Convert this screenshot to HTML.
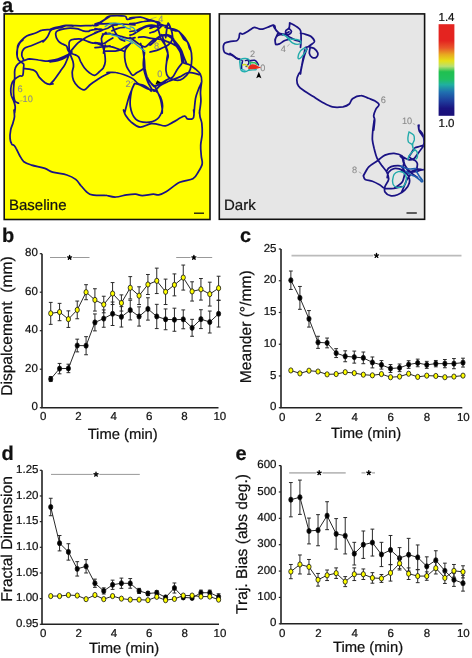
<!DOCTYPE html>
<html><head><meta charset="utf-8"><style>
html,body{margin:0;padding:0;background:#fff;width:472px;height:658px;overflow:hidden}
svg{display:block;will-change:transform}
text{font-family:"Liberation Sans", sans-serif;fill:#111;stroke:#111;stroke-width:0.22px;text-rendering:geometricPrecision}
</style></head><body>
<svg width="472" height="658" viewBox="0 0 472 658">
<path d="M42 253.7V407.7H218.5" fill="none" stroke="#222" stroke-width="1.6"/>
<line x1="39.80" y1="407.70" x2="42" y2="407.70" stroke="#222" stroke-width="1.2"/>
<text x="37.8" y="410.30" text-anchor="end" font-size="11.5">0</text>
<line x1="39.80" y1="369.20" x2="42" y2="369.20" stroke="#222" stroke-width="1.2"/>
<text x="37.8" y="371.80" text-anchor="end" font-size="11.5">20</text>
<line x1="39.80" y1="330.70" x2="42" y2="330.70" stroke="#222" stroke-width="1.2"/>
<text x="37.8" y="333.30" text-anchor="end" font-size="11.5">40</text>
<line x1="39.80" y1="292.20" x2="42" y2="292.20" stroke="#222" stroke-width="1.2"/>
<text x="37.8" y="294.80" text-anchor="end" font-size="11.5">60</text>
<line x1="39.80" y1="253.70" x2="42" y2="253.70" stroke="#222" stroke-width="1.2"/>
<text x="37.8" y="256.30" text-anchor="end" font-size="11.5">80</text>
<text x="43.10" y="420" text-anchor="middle" font-size="11.5">0</text>
<text x="78.44" y="420" text-anchor="middle" font-size="11.5">2</text>
<text x="113.78" y="420" text-anchor="middle" font-size="11.5">4</text>
<text x="149.12" y="420" text-anchor="middle" font-size="11.5">6</text>
<text x="184.46" y="420" text-anchor="middle" font-size="11.5">8</text>
<text x="219.80" y="420" text-anchor="middle" font-size="11.5">10</text>
<text x="122.7" y="439" text-anchor="middle" font-size="14.8">Time (min)</text>
<text transform="translate(12.3,326.1) rotate(-90)" text-anchor="middle" font-size="15.6" style="white-space:pre">Dispalcement  (mm)</text>
<text x="2" y="242" font-size="20" font-weight="bold">b</text>
<line x1="50" y1="257.5" x2="89.5" y2="257.5" stroke="#999" stroke-width="1"/>
<circle cx="69.6" cy="257.5" r="3.3" fill="#fff"/>
<path d="M69.60 257.50L69.60 255.35M69.60 257.50L71.64 256.84M69.60 257.50L70.86 259.24M69.60 257.50L68.34 259.24M69.60 257.50L67.56 256.84" stroke="#000" stroke-width="1.35" stroke-linecap="round" fill="none"/>
<line x1="176.2" y1="257.5" x2="212.2" y2="257.5" stroke="#999" stroke-width="1"/>
<circle cx="193.9" cy="257.5" r="3.3" fill="#fff"/>
<path d="M193.90 257.50L193.90 255.35M193.90 257.50L195.94 256.84M193.90 257.50L195.16 259.24M193.90 257.50L192.64 259.24M193.90 257.50L191.86 256.84" stroke="#000" stroke-width="1.35" stroke-linecap="round" fill="none"/>
<path d="M50.73 376.51V381.52M48.84 376.51H52.63M48.84 381.52H52.63" stroke="#2a2a2a" stroke-width="1.0" fill="none"/>
<path d="M59.57 363.43V373.82M57.67 363.43H61.47M57.67 373.82H61.47" stroke="#2a2a2a" stroke-width="1.0" fill="none"/>
<path d="M68.41 364.19V372.66M66.50 364.19H70.31M66.50 372.66H70.31" stroke="#2a2a2a" stroke-width="1.0" fill="none"/>
<path d="M77.24 339.17V351.88M75.34 339.17H79.14M75.34 351.88H79.14" stroke="#2a2a2a" stroke-width="1.0" fill="none"/>
<path d="M86.08 336.67V354.76M84.17 336.67H87.98M84.17 354.76H87.98" stroke="#2a2a2a" stroke-width="1.0" fill="none"/>
<path d="M94.91 313.95V330.89M93.01 313.95H96.81M93.01 330.89H96.81" stroke="#2a2a2a" stroke-width="1.0" fill="none"/>
<path d="M103.75 309.91V327.24M101.84 309.91H105.65M101.84 327.24H105.65" stroke="#2a2a2a" stroke-width="1.0" fill="none"/>
<path d="M112.58 302.02V325.50M110.68 302.02H114.48M110.68 325.50H114.48" stroke="#2a2a2a" stroke-width="1.0" fill="none"/>
<path d="M121.42 306.64V327.04M119.52 306.64H123.32M119.52 327.04H123.32" stroke="#2a2a2a" stroke-width="1.0" fill="none"/>
<path d="M130.25 300.28V319.92M128.35 300.28H132.15M128.35 319.92H132.15" stroke="#2a2a2a" stroke-width="1.0" fill="none"/>
<path d="M139.09 306.83V326.08M137.19 306.83H140.99M137.19 326.08H140.99" stroke="#2a2a2a" stroke-width="1.0" fill="none"/>
<path d="M147.92 297.78V320.11M146.02 297.78H149.82M146.02 320.11H149.82" stroke="#2a2a2a" stroke-width="1.0" fill="none"/>
<path d="M156.76 304.33V328.58M154.86 304.33H158.66M154.86 328.58H158.66" stroke="#2a2a2a" stroke-width="1.0" fill="none"/>
<path d="M165.59 308.95V329.74M163.69 308.95H167.49M163.69 329.74H167.49" stroke="#2a2a2a" stroke-width="1.0" fill="none"/>
<path d="M174.43 308.18V331.28M172.53 308.18H176.33M172.53 331.28H176.33" stroke="#2a2a2a" stroke-width="1.0" fill="none"/>
<path d="M183.26 309.91V328.77M181.36 309.91H185.16M181.36 328.77H185.16" stroke="#2a2a2a" stroke-width="1.0" fill="none"/>
<path d="M192.10 319.34V336.28M190.20 319.34H194.00M190.20 336.28H194.00" stroke="#2a2a2a" stroke-width="1.0" fill="none"/>
<path d="M200.93 309.72V328.58M199.03 309.72H202.83M199.03 328.58H202.83" stroke="#2a2a2a" stroke-width="1.0" fill="none"/>
<path d="M209.77 311.06V333.01M207.87 311.06H211.67M207.87 333.01H211.67" stroke="#2a2a2a" stroke-width="1.0" fill="none"/>
<path d="M218.60 300.48V327.04M216.70 300.48H220.50M216.70 327.04H220.50" stroke="#2a2a2a" stroke-width="1.0" fill="none"/>
<polyline points="50.73,379.02 59.57,368.62 68.41,368.43 77.24,345.52 86.08,345.71 94.91,322.42 103.75,318.57 112.58,313.76 121.42,316.84 130.25,310.10 139.09,316.45 147.92,308.95 156.76,316.45 165.59,319.34 174.43,319.73 183.26,319.34 192.10,327.81 200.93,319.15 209.77,322.04 218.60,313.76" fill="none" stroke="#111" stroke-width="0.9"/>
<ellipse cx="50.73" cy="379.02" rx="2.1" ry="2.6" fill="#000" stroke="#111" stroke-width="0.8"/>
<ellipse cx="59.57" cy="368.62" rx="2.1" ry="2.6" fill="#000" stroke="#111" stroke-width="0.8"/>
<ellipse cx="68.41" cy="368.43" rx="2.1" ry="2.6" fill="#000" stroke="#111" stroke-width="0.8"/>
<ellipse cx="77.24" cy="345.52" rx="2.1" ry="2.6" fill="#000" stroke="#111" stroke-width="0.8"/>
<ellipse cx="86.08" cy="345.71" rx="2.1" ry="2.6" fill="#000" stroke="#111" stroke-width="0.8"/>
<ellipse cx="94.91" cy="322.42" rx="2.1" ry="2.6" fill="#000" stroke="#111" stroke-width="0.8"/>
<ellipse cx="103.75" cy="318.57" rx="2.1" ry="2.6" fill="#000" stroke="#111" stroke-width="0.8"/>
<ellipse cx="112.58" cy="313.76" rx="2.1" ry="2.6" fill="#000" stroke="#111" stroke-width="0.8"/>
<ellipse cx="121.42" cy="316.84" rx="2.1" ry="2.6" fill="#000" stroke="#111" stroke-width="0.8"/>
<ellipse cx="130.25" cy="310.10" rx="2.1" ry="2.6" fill="#000" stroke="#111" stroke-width="0.8"/>
<ellipse cx="139.09" cy="316.45" rx="2.1" ry="2.6" fill="#000" stroke="#111" stroke-width="0.8"/>
<ellipse cx="147.92" cy="308.95" rx="2.1" ry="2.6" fill="#000" stroke="#111" stroke-width="0.8"/>
<ellipse cx="156.76" cy="316.45" rx="2.1" ry="2.6" fill="#000" stroke="#111" stroke-width="0.8"/>
<ellipse cx="165.59" cy="319.34" rx="2.1" ry="2.6" fill="#000" stroke="#111" stroke-width="0.8"/>
<ellipse cx="174.43" cy="319.73" rx="2.1" ry="2.6" fill="#000" stroke="#111" stroke-width="0.8"/>
<ellipse cx="183.26" cy="319.34" rx="2.1" ry="2.6" fill="#000" stroke="#111" stroke-width="0.8"/>
<ellipse cx="192.10" cy="327.81" rx="2.1" ry="2.6" fill="#000" stroke="#111" stroke-width="0.8"/>
<ellipse cx="200.93" cy="319.15" rx="2.1" ry="2.6" fill="#000" stroke="#111" stroke-width="0.8"/>
<ellipse cx="209.77" cy="322.04" rx="2.1" ry="2.6" fill="#000" stroke="#111" stroke-width="0.8"/>
<ellipse cx="218.60" cy="313.76" rx="2.1" ry="2.6" fill="#000" stroke="#111" stroke-width="0.8"/>
<path d="M50.73 302.40V324.35M48.84 302.40H52.63M48.84 324.35H52.63" stroke="#2a2a2a" stroke-width="1.0" fill="none"/>
<path d="M59.57 303.37V320.69M57.67 303.37H61.47M57.67 320.69H61.47" stroke="#2a2a2a" stroke-width="1.0" fill="none"/>
<path d="M68.41 310.87V327.43M66.50 310.87H70.31M66.50 327.43H70.31" stroke="#2a2a2a" stroke-width="1.0" fill="none"/>
<path d="M77.24 301.06V318.76M75.34 301.06H79.14M75.34 318.76H79.14" stroke="#2a2a2a" stroke-width="1.0" fill="none"/>
<path d="M86.08 284.69V299.71M84.17 284.69H87.98M84.17 299.71H87.98" stroke="#2a2a2a" stroke-width="1.0" fill="none"/>
<path d="M94.91 288.74V311.06M93.01 288.74H96.81M93.01 311.06H96.81" stroke="#2a2a2a" stroke-width="1.0" fill="none"/>
<path d="M103.75 296.24V312.80M101.84 296.24H105.65M101.84 312.80H105.65" stroke="#2a2a2a" stroke-width="1.0" fill="none"/>
<path d="M112.58 282.57V304.52M110.68 282.57H114.48M110.68 304.52H114.48" stroke="#2a2a2a" stroke-width="1.0" fill="none"/>
<path d="M121.42 294.89V311.06M119.52 294.89H123.32M119.52 311.06H123.32" stroke="#2a2a2a" stroke-width="1.0" fill="none"/>
<path d="M130.25 276.61V298.94M128.35 276.61H132.15M128.35 298.94H132.15" stroke="#2a2a2a" stroke-width="1.0" fill="none"/>
<path d="M139.09 286.81V304.52M137.19 286.81H140.99M137.19 304.52H140.99" stroke="#2a2a2a" stroke-width="1.0" fill="none"/>
<path d="M147.92 274.49V294.51M146.02 274.49H149.82M146.02 294.51H149.82" stroke="#2a2a2a" stroke-width="1.0" fill="none"/>
<path d="M156.76 268.14V293.55M154.86 268.14H158.66M154.86 293.55H158.66" stroke="#2a2a2a" stroke-width="1.0" fill="none"/>
<path d="M165.59 279.11V304.52M163.69 279.11H167.49M163.69 304.52H167.49" stroke="#2a2a2a" stroke-width="1.0" fill="none"/>
<path d="M174.43 273.91V295.86M172.53 273.91H176.33M172.53 295.86H176.33" stroke="#2a2a2a" stroke-width="1.0" fill="none"/>
<path d="M183.26 265.06V290.08M181.36 265.06H185.16M181.36 290.08H185.16" stroke="#2a2a2a" stroke-width="1.0" fill="none"/>
<path d="M192.10 281.80V301.06M190.20 281.80H194.00M190.20 301.06H194.00" stroke="#2a2a2a" stroke-width="1.0" fill="none"/>
<path d="M200.93 278.53V300.09M199.03 278.53H202.83M199.03 300.09H202.83" stroke="#2a2a2a" stroke-width="1.0" fill="none"/>
<path d="M209.77 282.19V306.06M207.87 282.19H211.67M207.87 306.06H211.67" stroke="#2a2a2a" stroke-width="1.0" fill="none"/>
<path d="M218.60 276.22V300.09M216.70 276.22H220.50M216.70 300.09H220.50" stroke="#2a2a2a" stroke-width="1.0" fill="none"/>
<polyline points="50.73,313.38 59.57,312.03 68.41,319.15 77.24,309.91 86.08,292.20 94.91,299.90 103.75,304.52 112.58,293.55 121.42,302.98 130.25,287.77 139.09,295.66 147.92,284.50 156.76,280.84 165.59,291.81 174.43,284.88 183.26,277.57 192.10,291.43 200.93,289.31 209.77,294.12 218.60,288.16" fill="none" stroke="#111" stroke-width="0.9"/>
<ellipse cx="50.73" cy="313.38" rx="2.1" ry="2.6" fill="#ffff00" stroke="#111" stroke-width="0.8"/>
<ellipse cx="59.57" cy="312.03" rx="2.1" ry="2.6" fill="#ffff00" stroke="#111" stroke-width="0.8"/>
<ellipse cx="68.41" cy="319.15" rx="2.1" ry="2.6" fill="#ffff00" stroke="#111" stroke-width="0.8"/>
<ellipse cx="77.24" cy="309.91" rx="2.1" ry="2.6" fill="#ffff00" stroke="#111" stroke-width="0.8"/>
<ellipse cx="86.08" cy="292.20" rx="2.1" ry="2.6" fill="#ffff00" stroke="#111" stroke-width="0.8"/>
<ellipse cx="94.91" cy="299.90" rx="2.1" ry="2.6" fill="#ffff00" stroke="#111" stroke-width="0.8"/>
<ellipse cx="103.75" cy="304.52" rx="2.1" ry="2.6" fill="#ffff00" stroke="#111" stroke-width="0.8"/>
<ellipse cx="112.58" cy="293.55" rx="2.1" ry="2.6" fill="#ffff00" stroke="#111" stroke-width="0.8"/>
<ellipse cx="121.42" cy="302.98" rx="2.1" ry="2.6" fill="#ffff00" stroke="#111" stroke-width="0.8"/>
<ellipse cx="130.25" cy="287.77" rx="2.1" ry="2.6" fill="#ffff00" stroke="#111" stroke-width="0.8"/>
<ellipse cx="139.09" cy="295.66" rx="2.1" ry="2.6" fill="#ffff00" stroke="#111" stroke-width="0.8"/>
<ellipse cx="147.92" cy="284.50" rx="2.1" ry="2.6" fill="#ffff00" stroke="#111" stroke-width="0.8"/>
<ellipse cx="156.76" cy="280.84" rx="2.1" ry="2.6" fill="#ffff00" stroke="#111" stroke-width="0.8"/>
<ellipse cx="165.59" cy="291.81" rx="2.1" ry="2.6" fill="#ffff00" stroke="#111" stroke-width="0.8"/>
<ellipse cx="174.43" cy="284.88" rx="2.1" ry="2.6" fill="#ffff00" stroke="#111" stroke-width="0.8"/>
<ellipse cx="183.26" cy="277.57" rx="2.1" ry="2.6" fill="#ffff00" stroke="#111" stroke-width="0.8"/>
<ellipse cx="192.10" cy="291.43" rx="2.1" ry="2.6" fill="#ffff00" stroke="#111" stroke-width="0.8"/>
<ellipse cx="200.93" cy="289.31" rx="2.1" ry="2.6" fill="#ffff00" stroke="#111" stroke-width="0.8"/>
<ellipse cx="209.77" cy="294.12" rx="2.1" ry="2.6" fill="#ffff00" stroke="#111" stroke-width="0.8"/>
<ellipse cx="218.60" cy="288.16" rx="2.1" ry="2.6" fill="#ffff00" stroke="#111" stroke-width="0.8"/>
<path d="M281 249V407.7H462.3" fill="none" stroke="#222" stroke-width="1.6"/>
<line x1="278.80" y1="407.70" x2="281" y2="407.70" stroke="#222" stroke-width="1.2"/>
<text x="276.5" y="410.30" text-anchor="end" font-size="11.5">0</text>
<line x1="278.80" y1="375.96" x2="281" y2="375.96" stroke="#222" stroke-width="1.2"/>
<text x="276.5" y="378.56" text-anchor="end" font-size="11.5">5</text>
<line x1="278.80" y1="344.22" x2="281" y2="344.22" stroke="#222" stroke-width="1.2"/>
<text x="276.5" y="346.82" text-anchor="end" font-size="11.5">10</text>
<line x1="278.80" y1="312.48" x2="281" y2="312.48" stroke="#222" stroke-width="1.2"/>
<text x="276.5" y="315.08" text-anchor="end" font-size="11.5">15</text>
<line x1="278.80" y1="280.74" x2="281" y2="280.74" stroke="#222" stroke-width="1.2"/>
<text x="276.5" y="283.34" text-anchor="end" font-size="11.5">20</text>
<line x1="278.80" y1="249.00" x2="281" y2="249.00" stroke="#222" stroke-width="1.2"/>
<text x="276.5" y="251.60" text-anchor="end" font-size="11.5">25</text>
<text x="282.10" y="420.5" text-anchor="middle" font-size="11.5">0</text>
<text x="318.34" y="420.5" text-anchor="middle" font-size="11.5">2</text>
<text x="354.58" y="420.5" text-anchor="middle" font-size="11.5">4</text>
<text x="390.82" y="420.5" text-anchor="middle" font-size="11.5">6</text>
<text x="427.06" y="420.5" text-anchor="middle" font-size="11.5">8</text>
<text x="463.30" y="420.5" text-anchor="middle" font-size="11.5">10</text>
<text x="366" y="438.3" text-anchor="middle" font-size="14.8">Time (min)</text>
<text transform="translate(250.8,326.8) rotate(-90)" text-anchor="middle" font-size="15.6" style="white-space:pre">Meander (°/mm)</text>
<text x="240" y="242" font-size="20" font-weight="bold">c</text>
<line x1="291.5" y1="255.6" x2="461.5" y2="255.6" stroke="#bbb" stroke-width="1.7"/>
<circle cx="376.5" cy="255.6" r="3.3" fill="#fff"/>
<path d="M376.50 255.60L376.50 253.45M376.50 255.60L378.54 254.94M376.50 255.60L377.76 257.34M376.50 255.60L375.24 257.34M376.50 255.60L374.46 254.94" stroke="#000" stroke-width="1.35" stroke-linecap="round" fill="none"/>
<path d="M290.86 271.03V289.44M288.96 271.03H292.76M288.96 289.44H292.76" stroke="#2a2a2a" stroke-width="1.0" fill="none"/>
<path d="M299.92 286.45V309.31M298.02 286.45H301.82M298.02 309.31H301.82" stroke="#2a2a2a" stroke-width="1.0" fill="none"/>
<path d="M308.98 310.58V327.08M307.08 310.58H310.88M307.08 327.08H310.88" stroke="#2a2a2a" stroke-width="1.0" fill="none"/>
<path d="M318.04 336.28V348.35M316.14 336.28H319.94M316.14 348.35H319.94" stroke="#2a2a2a" stroke-width="1.0" fill="none"/>
<path d="M327.10 338.06V347.84M325.20 338.06H329.00M325.20 347.84H329.00" stroke="#2a2a2a" stroke-width="1.0" fill="none"/>
<path d="M336.16 348.66V357.55M334.26 348.66H338.06M334.26 357.55H338.06" stroke="#2a2a2a" stroke-width="1.0" fill="none"/>
<path d="M345.22 350.82V361.74M343.32 350.82H347.12M343.32 361.74H347.12" stroke="#2a2a2a" stroke-width="1.0" fill="none"/>
<path d="M354.28 351.08V363.14M352.38 351.08H356.18M352.38 363.14H356.18" stroke="#2a2a2a" stroke-width="1.0" fill="none"/>
<path d="M363.34 352.03V363.71M361.44 352.03H365.24M361.44 363.71H365.24" stroke="#2a2a2a" stroke-width="1.0" fill="none"/>
<path d="M372.40 356.98V367.90M370.50 356.98H374.30M370.50 367.90H374.30" stroke="#2a2a2a" stroke-width="1.0" fill="none"/>
<path d="M381.46 360.60V369.10M379.56 360.60H383.36M379.56 369.10H383.36" stroke="#2a2a2a" stroke-width="1.0" fill="none"/>
<path d="M390.52 364.53V372.53M388.62 364.53H392.42M388.62 372.53H392.42" stroke="#2a2a2a" stroke-width="1.0" fill="none"/>
<path d="M399.58 364.03V371.64M397.68 364.03H401.48M397.68 371.64H401.48" stroke="#2a2a2a" stroke-width="1.0" fill="none"/>
<path d="M408.64 360.72V368.34M406.74 360.72H410.54M406.74 368.34H410.54" stroke="#2a2a2a" stroke-width="1.0" fill="none"/>
<path d="M417.70 359.14V366.76M415.80 359.14H419.60M415.80 366.76H419.60" stroke="#2a2a2a" stroke-width="1.0" fill="none"/>
<path d="M426.76 361.36V368.34M424.86 361.36H428.66M424.86 368.34H428.66" stroke="#2a2a2a" stroke-width="1.0" fill="none"/>
<path d="M435.82 360.47V366.82M433.92 360.47H437.72M433.92 366.82H437.72" stroke="#2a2a2a" stroke-width="1.0" fill="none"/>
<path d="M444.88 359.52V367.77M442.98 359.52H446.78M442.98 367.77H446.78" stroke="#2a2a2a" stroke-width="1.0" fill="none"/>
<path d="M453.94 358.57V368.72M452.04 358.57H455.84M452.04 368.72H455.84" stroke="#2a2a2a" stroke-width="1.0" fill="none"/>
<path d="M463.00 358.19V367.07M461.10 358.19H464.90M461.10 367.07H464.90" stroke="#2a2a2a" stroke-width="1.0" fill="none"/>
<polyline points="290.86,280.23 299.92,297.88 308.98,318.83 318.04,342.32 327.10,342.95 336.16,353.11 345.22,356.28 354.28,357.11 363.34,357.87 372.40,362.44 381.46,364.85 390.52,368.53 399.58,367.83 408.64,364.53 417.70,362.95 426.76,364.85 435.82,363.64 444.88,363.64 453.94,363.64 463.00,362.63" fill="none" stroke="#111" stroke-width="0.9"/>
<ellipse cx="290.86" cy="280.23" rx="2.1" ry="2.6" fill="#000" stroke="#111" stroke-width="0.8"/>
<ellipse cx="299.92" cy="297.88" rx="2.1" ry="2.6" fill="#000" stroke="#111" stroke-width="0.8"/>
<ellipse cx="308.98" cy="318.83" rx="2.1" ry="2.6" fill="#000" stroke="#111" stroke-width="0.8"/>
<ellipse cx="318.04" cy="342.32" rx="2.1" ry="2.6" fill="#000" stroke="#111" stroke-width="0.8"/>
<ellipse cx="327.10" cy="342.95" rx="2.1" ry="2.6" fill="#000" stroke="#111" stroke-width="0.8"/>
<ellipse cx="336.16" cy="353.11" rx="2.1" ry="2.6" fill="#000" stroke="#111" stroke-width="0.8"/>
<ellipse cx="345.22" cy="356.28" rx="2.1" ry="2.6" fill="#000" stroke="#111" stroke-width="0.8"/>
<ellipse cx="354.28" cy="357.11" rx="2.1" ry="2.6" fill="#000" stroke="#111" stroke-width="0.8"/>
<ellipse cx="363.34" cy="357.87" rx="2.1" ry="2.6" fill="#000" stroke="#111" stroke-width="0.8"/>
<ellipse cx="372.40" cy="362.44" rx="2.1" ry="2.6" fill="#000" stroke="#111" stroke-width="0.8"/>
<ellipse cx="381.46" cy="364.85" rx="2.1" ry="2.6" fill="#000" stroke="#111" stroke-width="0.8"/>
<ellipse cx="390.52" cy="368.53" rx="2.1" ry="2.6" fill="#000" stroke="#111" stroke-width="0.8"/>
<ellipse cx="399.58" cy="367.83" rx="2.1" ry="2.6" fill="#000" stroke="#111" stroke-width="0.8"/>
<ellipse cx="408.64" cy="364.53" rx="2.1" ry="2.6" fill="#000" stroke="#111" stroke-width="0.8"/>
<ellipse cx="417.70" cy="362.95" rx="2.1" ry="2.6" fill="#000" stroke="#111" stroke-width="0.8"/>
<ellipse cx="426.76" cy="364.85" rx="2.1" ry="2.6" fill="#000" stroke="#111" stroke-width="0.8"/>
<ellipse cx="435.82" cy="363.64" rx="2.1" ry="2.6" fill="#000" stroke="#111" stroke-width="0.8"/>
<ellipse cx="444.88" cy="363.64" rx="2.1" ry="2.6" fill="#000" stroke="#111" stroke-width="0.8"/>
<ellipse cx="453.94" cy="363.64" rx="2.1" ry="2.6" fill="#000" stroke="#111" stroke-width="0.8"/>
<ellipse cx="463.00" cy="362.63" rx="2.1" ry="2.6" fill="#000" stroke="#111" stroke-width="0.8"/>
<polyline points="290.86,370.44 299.92,373.42 308.98,370.69 318.04,371.52 327.10,374.37 336.16,374.06 345.22,372.15 354.28,373.10 363.34,374.69 372.40,375.33 381.46,374.06 390.52,377.23 399.58,376.59 408.64,373.74 417.70,376.91 426.76,375.64 435.82,375.96 444.88,377.23 453.94,376.59 463.00,375.64" fill="none" stroke="#111" stroke-width="0.9"/>
<ellipse cx="290.86" cy="370.44" rx="2.1" ry="2.6" fill="#ffff00" stroke="#111" stroke-width="0.8"/>
<ellipse cx="299.92" cy="373.42" rx="2.1" ry="2.6" fill="#ffff00" stroke="#111" stroke-width="0.8"/>
<ellipse cx="308.98" cy="370.69" rx="2.1" ry="2.6" fill="#ffff00" stroke="#111" stroke-width="0.8"/>
<ellipse cx="318.04" cy="371.52" rx="2.1" ry="2.6" fill="#ffff00" stroke="#111" stroke-width="0.8"/>
<ellipse cx="327.10" cy="374.37" rx="2.1" ry="2.6" fill="#ffff00" stroke="#111" stroke-width="0.8"/>
<ellipse cx="336.16" cy="374.06" rx="2.1" ry="2.6" fill="#ffff00" stroke="#111" stroke-width="0.8"/>
<ellipse cx="345.22" cy="372.15" rx="2.1" ry="2.6" fill="#ffff00" stroke="#111" stroke-width="0.8"/>
<ellipse cx="354.28" cy="373.10" rx="2.1" ry="2.6" fill="#ffff00" stroke="#111" stroke-width="0.8"/>
<ellipse cx="363.34" cy="374.69" rx="2.1" ry="2.6" fill="#ffff00" stroke="#111" stroke-width="0.8"/>
<ellipse cx="372.40" cy="375.33" rx="2.1" ry="2.6" fill="#ffff00" stroke="#111" stroke-width="0.8"/>
<ellipse cx="381.46" cy="374.06" rx="2.1" ry="2.6" fill="#ffff00" stroke="#111" stroke-width="0.8"/>
<ellipse cx="390.52" cy="377.23" rx="2.1" ry="2.6" fill="#ffff00" stroke="#111" stroke-width="0.8"/>
<ellipse cx="399.58" cy="376.59" rx="2.1" ry="2.6" fill="#ffff00" stroke="#111" stroke-width="0.8"/>
<ellipse cx="408.64" cy="373.74" rx="2.1" ry="2.6" fill="#ffff00" stroke="#111" stroke-width="0.8"/>
<ellipse cx="417.70" cy="376.91" rx="2.1" ry="2.6" fill="#ffff00" stroke="#111" stroke-width="0.8"/>
<ellipse cx="426.76" cy="375.64" rx="2.1" ry="2.6" fill="#ffff00" stroke="#111" stroke-width="0.8"/>
<ellipse cx="435.82" cy="375.96" rx="2.1" ry="2.6" fill="#ffff00" stroke="#111" stroke-width="0.8"/>
<ellipse cx="444.88" cy="377.23" rx="2.1" ry="2.6" fill="#ffff00" stroke="#111" stroke-width="0.8"/>
<ellipse cx="453.94" cy="376.59" rx="2.1" ry="2.6" fill="#ffff00" stroke="#111" stroke-width="0.8"/>
<ellipse cx="463.00" cy="375.64" rx="2.1" ry="2.6" fill="#ffff00" stroke="#111" stroke-width="0.8"/>
<path d="M42 470.3V624.3H219" fill="none" stroke="#222" stroke-width="1.6"/>
<line x1="39.80" y1="624.30" x2="42" y2="624.30" stroke="#222" stroke-width="1.2"/>
<text x="38.5" y="626.90" text-anchor="end" font-size="11.5">0.95</text>
<line x1="39.80" y1="598.63" x2="42" y2="598.63" stroke="#222" stroke-width="1.2"/>
<text x="38.5" y="601.23" text-anchor="end" font-size="11.5">1.00</text>
<line x1="39.80" y1="572.97" x2="42" y2="572.97" stroke="#222" stroke-width="1.2"/>
<text x="38.5" y="575.57" text-anchor="end" font-size="11.5">1.05</text>
<line x1="39.80" y1="547.30" x2="42" y2="547.30" stroke="#222" stroke-width="1.2"/>
<text x="38.5" y="549.90" text-anchor="end" font-size="11.5">1.10</text>
<line x1="39.80" y1="521.63" x2="42" y2="521.63" stroke="#222" stroke-width="1.2"/>
<text x="38.5" y="524.23" text-anchor="end" font-size="11.5">1.15</text>
<line x1="39.80" y1="495.97" x2="42" y2="495.97" stroke="#222" stroke-width="1.2"/>
<text x="38.5" y="498.57" text-anchor="end" font-size="11.5">1.20</text>
<line x1="39.80" y1="470.30" x2="42" y2="470.30" stroke="#222" stroke-width="1.2"/>
<text x="38.5" y="472.90" text-anchor="end" font-size="11.5">1.25</text>
<text x="43.30" y="637" text-anchor="middle" font-size="11.5">0</text>
<text x="78.64" y="637" text-anchor="middle" font-size="11.5">2</text>
<text x="113.98" y="637" text-anchor="middle" font-size="11.5">4</text>
<text x="149.32" y="637" text-anchor="middle" font-size="11.5">6</text>
<text x="184.66" y="637" text-anchor="middle" font-size="11.5">8</text>
<text x="220.00" y="637" text-anchor="middle" font-size="11.5">10</text>
<text x="124" y="653" text-anchor="middle" font-size="14.8">Time (min)</text>
<text transform="translate(12.2,539) rotate(-90)" text-anchor="middle" font-size="15.6" style="white-space:pre">Fractal Dimension</text>
<text x="1.5" y="460" font-size="20" font-weight="bold">d</text>
<line x1="51" y1="474.4" x2="139.8" y2="474.4" stroke="#999" stroke-width="1"/>
<circle cx="96" cy="474.4" r="3.3" fill="#fff"/>
<path d="M96.00 474.40L96.00 472.25M96.00 474.40L98.04 473.74M96.00 474.40L97.26 476.14M96.00 474.40L94.74 476.14M96.00 474.40L93.96 473.74" stroke="#000" stroke-width="1.35" stroke-linecap="round" fill="none"/>
<path d="M50.73 498.28V515.73M48.84 498.28H52.63M48.84 515.73H52.63" stroke="#2a2a2a" stroke-width="1.0" fill="none"/>
<path d="M59.57 535.49V550.89M57.67 535.49H61.47M57.67 550.89H61.47" stroke="#2a2a2a" stroke-width="1.0" fill="none"/>
<path d="M68.41 543.71V560.13M66.50 543.71H70.31M66.50 560.13H70.31" stroke="#2a2a2a" stroke-width="1.0" fill="none"/>
<path d="M77.24 561.67V576.05M75.34 561.67H79.14M75.34 576.05H79.14" stroke="#2a2a2a" stroke-width="1.0" fill="none"/>
<path d="M86.08 559.62V572.97M84.17 559.62H87.98M84.17 572.97H87.98" stroke="#2a2a2a" stroke-width="1.0" fill="none"/>
<path d="M94.91 579.13V587.34M93.01 579.13H96.81M93.01 587.34H96.81" stroke="#2a2a2a" stroke-width="1.0" fill="none"/>
<path d="M103.75 587.85V594.01M101.84 587.85H105.65M101.84 594.01H105.65" stroke="#2a2a2a" stroke-width="1.0" fill="none"/>
<path d="M112.58 580.15V589.39M110.68 580.15H114.48M110.68 589.39H114.48" stroke="#2a2a2a" stroke-width="1.0" fill="none"/>
<path d="M121.42 578.10V588.37M119.52 578.10H123.32M119.52 588.37H123.32" stroke="#2a2a2a" stroke-width="1.0" fill="none"/>
<path d="M130.25 578.56V588.21M128.35 578.56H132.15M128.35 588.21H132.15" stroke="#2a2a2a" stroke-width="1.0" fill="none"/>
<path d="M139.09 588.37V593.50M137.19 588.37H140.99M137.19 593.50H140.99" stroke="#2a2a2a" stroke-width="1.0" fill="none"/>
<path d="M147.92 591.45V595.55M146.02 591.45H149.82M146.02 595.55H149.82" stroke="#2a2a2a" stroke-width="1.0" fill="none"/>
<path d="M156.76 590.68V594.78M154.86 590.68H158.66M154.86 594.78H158.66" stroke="#2a2a2a" stroke-width="1.0" fill="none"/>
<path d="M165.59 595.86V598.94M163.69 595.86H167.49M163.69 598.94H167.49" stroke="#2a2a2a" stroke-width="1.0" fill="none"/>
<path d="M174.43 582.98V593.04M172.53 582.98H176.33M172.53 593.04H176.33" stroke="#2a2a2a" stroke-width="1.0" fill="none"/>
<path d="M183.26 595.86V598.94M181.36 595.86H185.16M181.36 598.94H185.16" stroke="#2a2a2a" stroke-width="1.0" fill="none"/>
<path d="M192.10 596.43V599.51M190.20 596.43H194.00M190.20 599.51H194.00" stroke="#2a2a2a" stroke-width="1.0" fill="none"/>
<path d="M200.93 590.16V595.30M199.03 590.16H202.83M199.03 595.30H202.83" stroke="#2a2a2a" stroke-width="1.0" fill="none"/>
<path d="M209.77 590.16V595.30M207.87 590.16H211.67M207.87 595.30H211.67" stroke="#2a2a2a" stroke-width="1.0" fill="none"/>
<path d="M218.60 593.76V599.92M216.70 593.76H220.50M216.70 599.92H220.50" stroke="#2a2a2a" stroke-width="1.0" fill="none"/>
<polyline points="50.73,507.00 59.57,543.19 68.41,551.92 77.24,568.86 86.08,566.29 94.91,583.23 103.75,590.93 112.58,584.77 121.42,583.23 130.25,583.39 139.09,590.93 147.92,593.50 156.76,592.73 165.59,597.40 174.43,588.01 183.26,597.40 192.10,597.97 200.93,592.73 209.77,592.73 218.60,596.84" fill="none" stroke="#111" stroke-width="0.9"/>
<ellipse cx="50.73" cy="507.00" rx="2.1" ry="2.6" fill="#000" stroke="#111" stroke-width="0.8"/>
<ellipse cx="59.57" cy="543.19" rx="2.1" ry="2.6" fill="#000" stroke="#111" stroke-width="0.8"/>
<ellipse cx="68.41" cy="551.92" rx="2.1" ry="2.6" fill="#000" stroke="#111" stroke-width="0.8"/>
<ellipse cx="77.24" cy="568.86" rx="2.1" ry="2.6" fill="#000" stroke="#111" stroke-width="0.8"/>
<ellipse cx="86.08" cy="566.29" rx="2.1" ry="2.6" fill="#000" stroke="#111" stroke-width="0.8"/>
<ellipse cx="94.91" cy="583.23" rx="2.1" ry="2.6" fill="#000" stroke="#111" stroke-width="0.8"/>
<ellipse cx="103.75" cy="590.93" rx="2.1" ry="2.6" fill="#000" stroke="#111" stroke-width="0.8"/>
<ellipse cx="112.58" cy="584.77" rx="2.1" ry="2.6" fill="#000" stroke="#111" stroke-width="0.8"/>
<ellipse cx="121.42" cy="583.23" rx="2.1" ry="2.6" fill="#000" stroke="#111" stroke-width="0.8"/>
<ellipse cx="130.25" cy="583.39" rx="2.1" ry="2.6" fill="#000" stroke="#111" stroke-width="0.8"/>
<ellipse cx="139.09" cy="590.93" rx="2.1" ry="2.6" fill="#000" stroke="#111" stroke-width="0.8"/>
<ellipse cx="147.92" cy="593.50" rx="2.1" ry="2.6" fill="#000" stroke="#111" stroke-width="0.8"/>
<ellipse cx="156.76" cy="592.73" rx="2.1" ry="2.6" fill="#000" stroke="#111" stroke-width="0.8"/>
<ellipse cx="165.59" cy="597.40" rx="2.1" ry="2.6" fill="#000" stroke="#111" stroke-width="0.8"/>
<ellipse cx="174.43" cy="588.01" rx="2.1" ry="2.6" fill="#000" stroke="#111" stroke-width="0.8"/>
<ellipse cx="183.26" cy="597.40" rx="2.1" ry="2.6" fill="#000" stroke="#111" stroke-width="0.8"/>
<ellipse cx="192.10" cy="597.97" rx="2.1" ry="2.6" fill="#000" stroke="#111" stroke-width="0.8"/>
<ellipse cx="200.93" cy="592.73" rx="2.1" ry="2.6" fill="#000" stroke="#111" stroke-width="0.8"/>
<ellipse cx="209.77" cy="592.73" rx="2.1" ry="2.6" fill="#000" stroke="#111" stroke-width="0.8"/>
<ellipse cx="218.60" cy="596.84" rx="2.1" ry="2.6" fill="#000" stroke="#111" stroke-width="0.8"/>
<polyline points="50.73,596.07 59.57,596.07 68.41,595.04 77.24,595.55 86.08,599.15 94.91,595.04 103.75,599.15 112.58,596.07 121.42,598.63 130.25,599.66 139.09,599.66 147.92,600.17 156.76,596.84 165.59,600.17 174.43,598.94 183.26,595.55 192.10,595.55 200.93,596.58 209.77,596.58 218.60,599.66" fill="none" stroke="#111" stroke-width="0.9"/>
<ellipse cx="50.73" cy="596.07" rx="2.1" ry="2.6" fill="#ffff00" stroke="#111" stroke-width="0.8"/>
<ellipse cx="59.57" cy="596.07" rx="2.1" ry="2.6" fill="#ffff00" stroke="#111" stroke-width="0.8"/>
<ellipse cx="68.41" cy="595.04" rx="2.1" ry="2.6" fill="#ffff00" stroke="#111" stroke-width="0.8"/>
<ellipse cx="77.24" cy="595.55" rx="2.1" ry="2.6" fill="#ffff00" stroke="#111" stroke-width="0.8"/>
<ellipse cx="86.08" cy="599.15" rx="2.1" ry="2.6" fill="#ffff00" stroke="#111" stroke-width="0.8"/>
<ellipse cx="94.91" cy="595.04" rx="2.1" ry="2.6" fill="#ffff00" stroke="#111" stroke-width="0.8"/>
<ellipse cx="103.75" cy="599.15" rx="2.1" ry="2.6" fill="#ffff00" stroke="#111" stroke-width="0.8"/>
<ellipse cx="112.58" cy="596.07" rx="2.1" ry="2.6" fill="#ffff00" stroke="#111" stroke-width="0.8"/>
<ellipse cx="121.42" cy="598.63" rx="2.1" ry="2.6" fill="#ffff00" stroke="#111" stroke-width="0.8"/>
<ellipse cx="130.25" cy="599.66" rx="2.1" ry="2.6" fill="#ffff00" stroke="#111" stroke-width="0.8"/>
<ellipse cx="139.09" cy="599.66" rx="2.1" ry="2.6" fill="#ffff00" stroke="#111" stroke-width="0.8"/>
<ellipse cx="147.92" cy="600.17" rx="2.1" ry="2.6" fill="#ffff00" stroke="#111" stroke-width="0.8"/>
<ellipse cx="156.76" cy="596.84" rx="2.1" ry="2.6" fill="#ffff00" stroke="#111" stroke-width="0.8"/>
<ellipse cx="165.59" cy="600.17" rx="2.1" ry="2.6" fill="#ffff00" stroke="#111" stroke-width="0.8"/>
<ellipse cx="174.43" cy="598.94" rx="2.1" ry="2.6" fill="#ffff00" stroke="#111" stroke-width="0.8"/>
<ellipse cx="183.26" cy="595.55" rx="2.1" ry="2.6" fill="#ffff00" stroke="#111" stroke-width="0.8"/>
<ellipse cx="192.10" cy="595.55" rx="2.1" ry="2.6" fill="#ffff00" stroke="#111" stroke-width="0.8"/>
<ellipse cx="200.93" cy="596.58" rx="2.1" ry="2.6" fill="#ffff00" stroke="#111" stroke-width="0.8"/>
<ellipse cx="209.77" cy="596.58" rx="2.1" ry="2.6" fill="#ffff00" stroke="#111" stroke-width="0.8"/>
<ellipse cx="218.60" cy="599.66" rx="2.1" ry="2.6" fill="#ffff00" stroke="#111" stroke-width="0.8"/>
<path d="M281 465.6V623.8H462.3" fill="none" stroke="#222" stroke-width="1.6"/>
<line x1="278.80" y1="623.80" x2="281" y2="623.80" stroke="#222" stroke-width="1.2"/>
<text x="276.5" y="626.40" text-anchor="end" font-size="11.5">0</text>
<line x1="278.80" y1="597.43" x2="281" y2="597.43" stroke="#222" stroke-width="1.2"/>
<text x="276.5" y="600.03" text-anchor="end" font-size="11.5">100</text>
<line x1="278.80" y1="571.07" x2="281" y2="571.07" stroke="#222" stroke-width="1.2"/>
<text x="276.5" y="573.67" text-anchor="end" font-size="11.5">200</text>
<line x1="278.80" y1="544.70" x2="281" y2="544.70" stroke="#222" stroke-width="1.2"/>
<text x="276.5" y="547.30" text-anchor="end" font-size="11.5">300</text>
<line x1="278.80" y1="518.33" x2="281" y2="518.33" stroke="#222" stroke-width="1.2"/>
<text x="276.5" y="520.93" text-anchor="end" font-size="11.5">400</text>
<line x1="278.80" y1="491.97" x2="281" y2="491.97" stroke="#222" stroke-width="1.2"/>
<text x="276.5" y="494.57" text-anchor="end" font-size="11.5">500</text>
<line x1="278.80" y1="465.60" x2="281" y2="465.60" stroke="#222" stroke-width="1.2"/>
<text x="276.5" y="468.20" text-anchor="end" font-size="11.5">600</text>
<text x="282.10" y="637" text-anchor="middle" font-size="11.5">0</text>
<text x="318.34" y="637" text-anchor="middle" font-size="11.5">2</text>
<text x="354.58" y="637" text-anchor="middle" font-size="11.5">4</text>
<text x="390.82" y="637" text-anchor="middle" font-size="11.5">6</text>
<text x="427.06" y="637" text-anchor="middle" font-size="11.5">8</text>
<text x="463.30" y="637" text-anchor="middle" font-size="11.5">10</text>
<text x="368" y="652.3" text-anchor="middle" font-size="14.8">Time (min)</text>
<text transform="translate(246.6,544) rotate(-90)" text-anchor="middle" font-size="15.6" style="white-space:pre">Traj. Bias (abs deg.)</text>
<text x="235.5" y="460" font-size="20" font-weight="bold">e</text>
<line x1="289.2" y1="472.8" x2="345.7" y2="472.8" stroke="#bbb" stroke-width="1.7"/>
<circle cx="319.2" cy="472.8" r="3.3" fill="#fff"/>
<path d="M319.20 472.80L319.20 470.65M319.20 472.80L321.24 472.14M319.20 472.80L320.46 474.54M319.20 472.80L317.94 474.54M319.20 472.80L317.16 472.14" stroke="#000" stroke-width="1.35" stroke-linecap="round" fill="none"/>
<line x1="361.5" y1="472.8" x2="375" y2="472.8" stroke="#bbb" stroke-width="1.7"/>
<circle cx="368.8" cy="472.8" r="3.3" fill="#fff"/>
<path d="M368.80 472.80L368.80 470.65M368.80 472.80L370.84 472.14M368.80 472.80L370.06 474.54M368.80 472.80L367.54 474.54M368.80 472.80L366.76 472.14" stroke="#000" stroke-width="1.35" stroke-linecap="round" fill="none"/>
<path d="M290.86 482.55V516.83M288.96 482.55H292.76M288.96 516.83H292.76" stroke="#2a2a2a" stroke-width="1.0" fill="none"/>
<path d="M299.92 480.10V514.38M298.02 480.10H301.82M298.02 514.38H301.82" stroke="#2a2a2a" stroke-width="1.0" fill="none"/>
<path d="M308.98 518.07V543.91M307.08 518.07H310.88M307.08 543.91H310.88" stroke="#2a2a2a" stroke-width="1.0" fill="none"/>
<path d="M318.04 514.64V545.75M316.14 514.64H319.94M316.14 545.75H319.94" stroke="#2a2a2a" stroke-width="1.0" fill="none"/>
<path d="M327.10 501.72V529.67M325.20 501.72H329.00M325.20 529.67H329.00" stroke="#2a2a2a" stroke-width="1.0" fill="none"/>
<path d="M336.16 518.60V549.18M334.26 518.60H338.06M334.26 549.18H338.06" stroke="#2a2a2a" stroke-width="1.0" fill="none"/>
<path d="M345.22 517.54V553.93M343.32 517.54H347.12M343.32 553.93H347.12" stroke="#2a2a2a" stroke-width="1.0" fill="none"/>
<path d="M354.28 542.33V565.00M352.38 542.33H356.18M352.38 565.00H356.18" stroke="#2a2a2a" stroke-width="1.0" fill="none"/>
<path d="M363.34 530.99V558.41M361.44 530.99H365.24M361.44 558.41H365.24" stroke="#2a2a2a" stroke-width="1.0" fill="none"/>
<path d="M372.40 529.14V556.04M370.50 529.14H374.30M370.50 556.04H374.30" stroke="#2a2a2a" stroke-width="1.0" fill="none"/>
<path d="M381.46 542.33V566.58M379.56 542.33H383.36M379.56 566.58H383.36" stroke="#2a2a2a" stroke-width="1.0" fill="none"/>
<path d="M390.52 535.47V564.48M388.62 535.47H392.42M388.62 564.48H392.42" stroke="#2a2a2a" stroke-width="1.0" fill="none"/>
<path d="M399.58 547.60V568.69M397.68 547.60H401.48M397.68 568.69H401.48" stroke="#2a2a2a" stroke-width="1.0" fill="none"/>
<path d="M408.64 538.37V571.07M406.74 538.37H410.54M406.74 571.07H410.54" stroke="#2a2a2a" stroke-width="1.0" fill="none"/>
<path d="M417.70 544.96V569.75M415.80 544.96H419.60M415.80 569.75H419.60" stroke="#2a2a2a" stroke-width="1.0" fill="none"/>
<path d="M426.76 556.83V575.81M424.86 556.83H428.66M424.86 575.81H428.66" stroke="#2a2a2a" stroke-width="1.0" fill="none"/>
<path d="M435.82 550.76V569.75M433.92 550.76H437.72M433.92 569.75H437.72" stroke="#2a2a2a" stroke-width="1.0" fill="none"/>
<path d="M444.88 563.16V578.45M442.98 563.16H446.78M442.98 578.45H446.78" stroke="#2a2a2a" stroke-width="1.0" fill="none"/>
<path d="M453.94 573.18V586.36M452.04 573.18H455.84M452.04 586.36H455.84" stroke="#2a2a2a" stroke-width="1.0" fill="none"/>
<path d="M463.00 575.29V591.11M461.10 575.29H464.90M461.10 591.11H464.90" stroke="#2a2a2a" stroke-width="1.0" fill="none"/>
<polyline points="290.86,499.69 299.92,497.24 308.98,530.99 318.04,530.20 327.10,515.70 336.16,533.89 345.22,535.74 354.28,553.66 363.34,544.70 372.40,542.59 381.46,554.46 390.52,549.97 399.58,558.15 408.64,554.72 417.70,557.36 426.76,566.32 435.82,560.26 444.88,570.80 453.94,579.77 463.00,583.20" fill="none" stroke="#111" stroke-width="0.9"/>
<ellipse cx="290.86" cy="499.69" rx="2.1" ry="2.6" fill="#000" stroke="#111" stroke-width="0.8"/>
<ellipse cx="299.92" cy="497.24" rx="2.1" ry="2.6" fill="#000" stroke="#111" stroke-width="0.8"/>
<ellipse cx="308.98" cy="530.99" rx="2.1" ry="2.6" fill="#000" stroke="#111" stroke-width="0.8"/>
<ellipse cx="318.04" cy="530.20" rx="2.1" ry="2.6" fill="#000" stroke="#111" stroke-width="0.8"/>
<ellipse cx="327.10" cy="515.70" rx="2.1" ry="2.6" fill="#000" stroke="#111" stroke-width="0.8"/>
<ellipse cx="336.16" cy="533.89" rx="2.1" ry="2.6" fill="#000" stroke="#111" stroke-width="0.8"/>
<ellipse cx="345.22" cy="535.74" rx="2.1" ry="2.6" fill="#000" stroke="#111" stroke-width="0.8"/>
<ellipse cx="354.28" cy="553.66" rx="2.1" ry="2.6" fill="#000" stroke="#111" stroke-width="0.8"/>
<ellipse cx="363.34" cy="544.70" rx="2.1" ry="2.6" fill="#000" stroke="#111" stroke-width="0.8"/>
<ellipse cx="372.40" cy="542.59" rx="2.1" ry="2.6" fill="#000" stroke="#111" stroke-width="0.8"/>
<ellipse cx="381.46" cy="554.46" rx="2.1" ry="2.6" fill="#000" stroke="#111" stroke-width="0.8"/>
<ellipse cx="390.52" cy="549.97" rx="2.1" ry="2.6" fill="#000" stroke="#111" stroke-width="0.8"/>
<ellipse cx="399.58" cy="558.15" rx="2.1" ry="2.6" fill="#000" stroke="#111" stroke-width="0.8"/>
<ellipse cx="408.64" cy="554.72" rx="2.1" ry="2.6" fill="#000" stroke="#111" stroke-width="0.8"/>
<ellipse cx="417.70" cy="557.36" rx="2.1" ry="2.6" fill="#000" stroke="#111" stroke-width="0.8"/>
<ellipse cx="426.76" cy="566.32" rx="2.1" ry="2.6" fill="#000" stroke="#111" stroke-width="0.8"/>
<ellipse cx="435.82" cy="560.26" rx="2.1" ry="2.6" fill="#000" stroke="#111" stroke-width="0.8"/>
<ellipse cx="444.88" cy="570.80" rx="2.1" ry="2.6" fill="#000" stroke="#111" stroke-width="0.8"/>
<ellipse cx="453.94" cy="579.77" rx="2.1" ry="2.6" fill="#000" stroke="#111" stroke-width="0.8"/>
<ellipse cx="463.00" cy="583.20" rx="2.1" ry="2.6" fill="#000" stroke="#111" stroke-width="0.8"/>
<path d="M290.86 564.48V578.71M288.96 564.48H292.76M288.96 578.71H292.76" stroke="#2a2a2a" stroke-width="1.0" fill="none"/>
<path d="M299.92 554.98V573.97M298.02 554.98H301.82M298.02 573.97H301.82" stroke="#2a2a2a" stroke-width="1.0" fill="none"/>
<path d="M308.98 559.47V574.23M307.08 559.47H310.88M307.08 574.23H310.88" stroke="#2a2a2a" stroke-width="1.0" fill="none"/>
<path d="M318.04 573.44V586.10M316.14 573.44H319.94M316.14 586.10H319.94" stroke="#2a2a2a" stroke-width="1.0" fill="none"/>
<path d="M327.10 570.01V580.56M325.20 570.01H329.00M325.20 580.56H329.00" stroke="#2a2a2a" stroke-width="1.0" fill="none"/>
<path d="M336.16 567.90V578.45M334.26 567.90H338.06M334.26 578.45H338.06" stroke="#2a2a2a" stroke-width="1.0" fill="none"/>
<path d="M345.22 576.60V586.62M343.32 576.60H347.12M343.32 586.62H347.12" stroke="#2a2a2a" stroke-width="1.0" fill="none"/>
<path d="M354.28 567.90V580.56M352.38 567.90H356.18M352.38 580.56H356.18" stroke="#2a2a2a" stroke-width="1.0" fill="none"/>
<path d="M363.34 568.96V579.50M361.44 568.96H365.24M361.44 579.50H365.24" stroke="#2a2a2a" stroke-width="1.0" fill="none"/>
<path d="M372.40 572.65V583.20M370.50 572.65H374.30M370.50 583.20H374.30" stroke="#2a2a2a" stroke-width="1.0" fill="none"/>
<path d="M381.46 574.49V582.40M379.56 574.49H383.36M379.56 582.40H383.36" stroke="#2a2a2a" stroke-width="1.0" fill="none"/>
<path d="M390.52 564.74V581.09M388.62 564.74H392.42M388.62 581.09H392.42" stroke="#2a2a2a" stroke-width="1.0" fill="none"/>
<path d="M399.58 556.83V570.01M397.68 556.83H401.48M397.68 570.01H401.48" stroke="#2a2a2a" stroke-width="1.0" fill="none"/>
<path d="M408.64 567.90V579.50M406.74 567.90H410.54M406.74 579.50H410.54" stroke="#2a2a2a" stroke-width="1.0" fill="none"/>
<path d="M417.70 569.48V582.67M415.80 569.48H419.60M415.80 582.67H419.60" stroke="#2a2a2a" stroke-width="1.0" fill="none"/>
<path d="M426.76 571.86V580.29M424.86 571.86H428.66M424.86 580.29H428.66" stroke="#2a2a2a" stroke-width="1.0" fill="none"/>
<path d="M435.82 562.37V573.97M433.92 562.37H437.72M433.92 573.97H437.72" stroke="#2a2a2a" stroke-width="1.0" fill="none"/>
<path d="M444.88 572.38V583.46M442.98 572.38H446.78M442.98 583.46H446.78" stroke="#2a2a2a" stroke-width="1.0" fill="none"/>
<path d="M453.94 564.48V577.13M452.04 564.48H455.84M452.04 577.13H455.84" stroke="#2a2a2a" stroke-width="1.0" fill="none"/>
<path d="M463.00 565.79V577.92M461.10 565.79H464.90M461.10 577.92H464.90" stroke="#2a2a2a" stroke-width="1.0" fill="none"/>
<polyline points="290.86,571.59 299.92,564.48 308.98,566.85 318.04,579.77 327.10,575.29 336.16,573.18 345.22,581.61 354.28,574.23 363.34,574.23 372.40,577.92 381.46,578.45 390.52,572.91 399.58,563.42 408.64,573.70 417.70,576.08 426.76,576.08 435.82,568.17 444.88,577.92 453.94,570.80 463.00,571.86" fill="none" stroke="#111" stroke-width="0.9"/>
<ellipse cx="290.86" cy="571.59" rx="2.1" ry="2.6" fill="#ffff00" stroke="#111" stroke-width="0.8"/>
<ellipse cx="299.92" cy="564.48" rx="2.1" ry="2.6" fill="#ffff00" stroke="#111" stroke-width="0.8"/>
<ellipse cx="308.98" cy="566.85" rx="2.1" ry="2.6" fill="#ffff00" stroke="#111" stroke-width="0.8"/>
<ellipse cx="318.04" cy="579.77" rx="2.1" ry="2.6" fill="#ffff00" stroke="#111" stroke-width="0.8"/>
<ellipse cx="327.10" cy="575.29" rx="2.1" ry="2.6" fill="#ffff00" stroke="#111" stroke-width="0.8"/>
<ellipse cx="336.16" cy="573.18" rx="2.1" ry="2.6" fill="#ffff00" stroke="#111" stroke-width="0.8"/>
<ellipse cx="345.22" cy="581.61" rx="2.1" ry="2.6" fill="#ffff00" stroke="#111" stroke-width="0.8"/>
<ellipse cx="354.28" cy="574.23" rx="2.1" ry="2.6" fill="#ffff00" stroke="#111" stroke-width="0.8"/>
<ellipse cx="363.34" cy="574.23" rx="2.1" ry="2.6" fill="#ffff00" stroke="#111" stroke-width="0.8"/>
<ellipse cx="372.40" cy="577.92" rx="2.1" ry="2.6" fill="#ffff00" stroke="#111" stroke-width="0.8"/>
<ellipse cx="381.46" cy="578.45" rx="2.1" ry="2.6" fill="#ffff00" stroke="#111" stroke-width="0.8"/>
<ellipse cx="390.52" cy="572.91" rx="2.1" ry="2.6" fill="#ffff00" stroke="#111" stroke-width="0.8"/>
<ellipse cx="399.58" cy="563.42" rx="2.1" ry="2.6" fill="#ffff00" stroke="#111" stroke-width="0.8"/>
<ellipse cx="408.64" cy="573.70" rx="2.1" ry="2.6" fill="#ffff00" stroke="#111" stroke-width="0.8"/>
<ellipse cx="417.70" cy="576.08" rx="2.1" ry="2.6" fill="#ffff00" stroke="#111" stroke-width="0.8"/>
<ellipse cx="426.76" cy="576.08" rx="2.1" ry="2.6" fill="#ffff00" stroke="#111" stroke-width="0.8"/>
<ellipse cx="435.82" cy="568.17" rx="2.1" ry="2.6" fill="#ffff00" stroke="#111" stroke-width="0.8"/>
<ellipse cx="444.88" cy="577.92" rx="2.1" ry="2.6" fill="#ffff00" stroke="#111" stroke-width="0.8"/>
<ellipse cx="453.94" cy="570.80" rx="2.1" ry="2.6" fill="#ffff00" stroke="#111" stroke-width="0.8"/>
<ellipse cx="463.00" cy="571.86" rx="2.1" ry="2.6" fill="#ffff00" stroke="#111" stroke-width="0.8"/>
<text x="2" y="11.5" font-size="20" font-weight="bold">a</text>
<rect x="4.2" y="13.9" width="205.8" height="205.6" fill="#ffff00" stroke="#111" stroke-width="1.6"/>
<rect x="219.3" y="13.9" width="205.3" height="205.4" fill="#e6e6e6" stroke="#111" stroke-width="1.6"/>
<defs><clipPath id="cy"><rect x="4.7" y="14.4" width="204.1" height="204.2"/></clipPath><clipPath id="cd"><rect x="220" y="14.4" width="203.9" height="204.2"/></clipPath></defs>
<g clip-path="url(#cy)">
<path d="M14.0 110.0C14.1 111.1 14.6 114.4 14.5 116.6C14.3 118.8 13.5 121.0 12.9 123.2C12.3 125.4 11.2 127.3 10.7 129.8C10.2 132.4 9.9 136.3 10.1 138.6C10.2 141.0 11.2 143.1 11.8 144.2C12.5 145.3 13.3 144.5 14.0 145.3C14.8 146.0 15.3 146.9 16.2 148.6C17.1 150.2 18.2 153.0 19.5 155.2C20.8 157.4 21.9 160.1 23.9 161.8C26.0 163.4 28.2 164.0 31.6 165.1C35.1 166.2 41.4 167.2 44.9 168.4C48.4 169.6 48.9 171.0 52.6 172.1C56.3 173.2 63.0 173.8 66.9 175.0C70.8 176.2 73.3 177.6 75.7 179.4C78.1 181.3 79.4 183.9 81.2 186.0C83.1 188.1 84.9 190.5 86.7 192.0C88.6 193.4 88.9 194.3 92.2 194.8C95.6 195.4 104.5 195.4 107.0 195.5M107.0 195.5C108.5 195.8 112.5 197.2 115.8 197.0C119.1 196.9 123.5 195.3 126.8 194.8C130.1 194.4 133.1 194.1 135.6 194.2C138.2 194.3 139.3 195.5 142.3 195.5C145.2 195.5 150.5 194.3 153.3 194.2C156.0 194.1 156.6 195.3 158.8 194.8C161.0 194.4 163.0 193.6 166.5 191.5C170.0 189.4 175.3 184.4 179.7 182.3C184.1 180.1 189.8 180.5 192.9 178.8C196.1 177.0 196.9 174.2 198.4 171.7C200.0 169.2 201.7 166.6 202.2 164.0C202.7 161.4 201.6 159.4 201.3 156.3C201.1 153.2 200.5 148.9 200.7 145.3C200.8 141.6 202.0 137.9 202.2 134.2C202.4 130.6 202.1 126.2 201.8 123.2C201.4 120.3 200.4 118.8 200.0 116.6C199.6 114.4 199.6 111.1 199.6 110.0M123.5 110.0C123.9 110.9 124.4 113.5 125.7 115.5C127.0 117.5 128.9 120.2 131.2 122.1C133.6 124.1 136.7 126.9 140.1 127.2C143.4 127.4 148.1 124.1 151.1 123.7C154.0 123.2 155.3 124.0 157.7 124.3C160.1 124.7 162.8 126.2 165.4 125.9C168.0 125.5 170.0 123.7 173.1 122.1C176.2 120.5 181.7 116.7 184.1 116.2C186.5 115.6 186.0 118.4 187.4 118.8C188.9 119.2 191.8 119.1 192.9 118.4C194.0 117.6 193.9 115.8 194.0 114.4C194.2 113.0 193.7 110.7 193.6 110.0M23.0 40.0C22.4 40.6 20.6 41.8 19.6 43.3C18.7 44.8 17.9 47.0 17.4 48.9C17.0 50.7 16.7 52.6 16.9 54.4C17.0 56.3 17.4 58.4 18.5 60.0C19.6 61.5 22.7 62.5 23.5 63.8C24.3 65.2 23.6 66.3 23.5 68.3C23.4 70.2 23.4 74.2 22.7 75.5C22.1 76.8 20.9 75.5 19.6 76.0C18.4 76.6 16.4 77.8 15.2 78.8C14.0 79.8 13.2 80.5 12.4 82.1C11.7 83.8 10.9 86.6 10.8 88.8C10.6 91.0 10.9 93.5 11.3 95.4C11.8 97.4 12.9 98.6 13.5 100.4C14.2 102.3 15.0 104.4 15.2 106.5C15.4 108.6 14.7 111.9 14.6 112.9M44.6 40.0C43.7 40.4 41.7 41.3 39.6 42.2C37.5 43.1 34.2 44.6 31.8 45.5C29.4 46.5 26.7 46.8 25.2 47.8C23.6 48.7 23.0 49.8 22.4 51.1C21.8 52.4 21.7 54.1 21.8 55.5C22.0 56.9 23.1 58.6 23.5 59.4C23.9 60.2 23.0 60.6 24.1 60.5C25.1 60.4 27.2 58.9 29.6 58.8C32.0 58.8 35.5 59.6 38.5 60.0C41.4 60.3 44.9 61.0 47.3 61.1C49.8 61.2 52.1 60.6 53.0 60.5M14.6 72.2C14.7 71.5 14.7 69.5 15.2 68.3C15.7 67.0 16.5 65.6 17.4 64.6C18.3 63.6 19.6 62.9 20.7 62.2C21.8 61.4 23.5 60.5 24.1 60.2M23.5 68.3C25.1 68.5 30.8 69.3 32.9 69.9C35.1 70.6 35.2 70.9 36.3 72.2C37.4 73.4 38.1 75.9 39.6 77.7C41.1 79.4 43.5 81.6 45.1 82.7C46.8 83.8 48.3 84.2 49.6 84.3C50.9 84.5 52.4 83.9 53.0 83.8M18.5 103.2C18.0 102.9 16.0 102.5 15.2 101.5C14.4 100.5 14.1 98.9 13.9 97.1C13.6 95.3 13.5 93.1 13.5 91.0C13.5 88.9 13.7 86.4 13.9 84.3C14.0 82.3 14.5 80.8 14.6 78.8C14.8 76.8 14.6 73.3 14.6 72.2M17.1 56.0C17.2 54.3 17.2 48.1 17.8 45.6C18.4 43.2 19.3 42.8 20.8 41.2C22.3 39.6 24.3 37.3 26.7 36.0C29.2 34.6 33.0 34.0 35.6 33.0C38.2 32.0 39.8 30.6 42.3 30.1C44.8 29.5 48.4 29.9 50.5 29.6C52.6 29.4 52.9 29.0 54.9 28.6C56.9 28.2 60.5 27.6 62.3 27.1C64.2 26.6 64.2 25.8 66.0 25.6C67.8 25.4 71.8 26.0 73.0 26.1M47.5 61.2C49.2 60.8 54.4 60.1 57.9 59.0C61.3 57.9 65.9 55.7 68.3 54.5C70.6 53.3 71.3 52.3 72.0 51.9M43.0 41.9C43.8 41.1 46.3 38.6 47.5 36.7C48.7 34.9 49.3 32.2 50.5 30.8C51.6 29.4 52.2 29.2 54.2 28.6C56.1 28.0 61.0 27.3 62.3 27.1M50.0 29.5C50.8 29.2 53.4 28.1 55.1 27.6C56.8 27.2 58.4 27.1 60.2 26.7C62.0 26.3 63.3 25.5 65.9 25.3C68.4 25.2 72.1 25.6 75.4 25.7C78.7 25.8 82.8 25.8 85.6 25.7C88.3 25.7 89.9 25.6 91.9 25.5C94.0 25.4 95.8 25.9 97.7 25.1C99.6 24.3 101.3 22.1 103.4 20.6C105.4 19.1 108.9 16.9 110.0 16.2M56.4 37.8C56.2 37.0 55.5 34.5 55.7 33.3C55.9 32.2 56.2 31.5 57.6 30.8C59.0 30.1 61.9 29.4 64.0 28.9C66.1 28.4 68.0 28.0 70.3 28.0C72.7 28.0 75.8 28.4 78.0 28.9C80.1 29.4 81.4 30.4 83.0 30.8C84.7 31.2 86.8 31.5 88.1 31.4C89.5 31.3 89.0 30.5 91.3 30.2C93.6 29.8 101.8 28.9 102.1 29.5C102.4 30.2 96.2 32.5 93.2 34.0C90.3 35.5 86.9 36.9 84.3 38.4C81.8 39.9 79.9 41.2 78.0 42.9C76.1 44.6 74.3 46.9 72.9 48.6C71.5 50.3 70.2 52.3 69.7 53.0M56.4 37.8C56.8 38.4 57.8 40.5 58.9 41.6C60.0 42.7 61.4 43.4 62.7 44.1C64.0 44.9 65.7 45.1 66.5 46.0C67.4 47.0 67.3 48.7 67.8 49.9C68.3 51.0 69.4 52.5 69.7 53.0M69.7 53.0C69.6 52.1 69.1 49.3 69.1 47.3C69.1 45.3 68.6 42.3 69.7 41.0C70.8 39.6 73.4 39.4 75.4 39.1C77.4 38.7 79.7 38.6 81.8 39.1C83.9 39.5 86.4 41.0 88.1 41.6C89.8 42.2 90.5 42.6 91.9 42.9C93.4 43.2 95.3 43.1 97.0 43.5C98.7 43.9 100.6 44.9 102.1 45.4C103.6 45.9 104.6 46.6 105.9 46.7C107.2 46.7 109.3 45.9 110.0 45.8M69.7 53.0C70.7 53.4 73.9 54.3 75.4 54.9C76.9 55.6 77.8 55.8 78.6 56.9C79.4 57.9 79.6 59.5 80.5 61.3C81.5 63.1 82.8 65.8 84.3 67.7C85.8 69.6 87.7 71.5 89.4 72.7C91.1 74.0 92.8 75.5 94.5 75.3C96.2 75.1 98.1 72.7 99.6 71.5C101.1 70.2 102.4 69.4 103.4 67.7C104.3 66.0 105.1 63.6 105.3 61.3C105.5 59.0 105.0 55.8 104.7 53.7C104.3 51.6 103.8 50.3 103.4 48.6C103.0 46.9 102.4 45.2 102.1 43.5C101.8 41.8 101.3 39.9 101.5 38.4C101.7 36.9 102.0 35.5 103.4 34.6C104.8 33.8 108.9 33.5 110.0 33.3M69.7 53.0C70.2 54.4 72.2 59.1 72.9 61.3C73.5 63.5 73.6 64.5 73.5 66.4C73.4 68.3 72.2 70.4 72.2 72.7C72.2 75.1 72.6 78.0 73.5 80.4C74.5 82.7 76.2 85.1 78.0 86.7C79.8 88.3 82.2 90.3 84.3 89.9C86.4 89.5 88.3 86.0 90.7 84.2C93.0 82.4 96.0 80.6 98.3 79.1C100.6 77.6 102.7 76.3 104.7 75.3C106.6 74.2 109.1 73.2 110.0 72.7M69.7 53.0C69.0 53.8 67.3 56.2 65.3 57.5C63.2 58.8 60.2 59.9 57.6 60.7C55.1 61.4 51.3 61.7 50.0 61.9M69.7 53.0C69.0 54.8 66.8 60.8 65.3 63.8C63.7 66.9 62.1 68.7 60.2 71.5C58.3 74.2 55.5 78.3 53.8 80.4C52.1 82.5 50.6 83.5 50.0 84.2M183.9 63.0C184.8 63.3 187.6 63.6 189.5 64.7C191.5 65.7 193.8 67.7 195.6 69.2C197.4 70.8 199.1 71.8 200.2 73.8C201.2 75.8 201.9 78.9 201.7 81.4C201.4 83.9 199.6 86.2 198.6 89.0C197.6 91.8 196.4 94.1 195.6 98.1C194.8 102.1 194.3 110.5 194.1 113.0M165.2 27.4C167.2 27.9 174.1 28.7 177.4 30.5C180.6 32.3 182.8 35.2 185.0 38.1C187.1 41.0 189.1 44.5 190.3 48.0C191.4 51.4 191.8 55.0 191.8 58.6C191.8 62.1 191.2 66.4 190.3 69.2C189.4 72.0 188.1 73.5 186.5 75.3C184.8 77.1 182.4 79.1 180.4 79.9C178.4 80.6 176.3 80.4 174.3 79.9C172.3 79.4 169.6 78.3 168.2 76.8C166.8 75.3 166.2 73.3 166.0 70.8C165.7 68.2 166.3 64.2 166.7 61.6C167.1 59.1 168.4 57.8 168.2 55.6C168.1 53.3 166.7 50.5 166.0 48.0C165.2 45.4 164.3 42.4 163.7 40.4C163.0 38.3 162.4 36.6 162.2 35.8M182.2 63.0C181.4 64.0 178.9 66.9 177.4 69.2C175.8 71.5 174.6 75.1 172.8 76.8C171.0 78.6 169.0 78.6 166.7 79.9C164.4 81.1 161.1 83.4 159.1 84.4C157.1 85.4 156.1 86.3 154.6 85.9C153.0 85.6 150.8 82.8 150.0 82.1M154.6 85.9C155.1 87.0 156.6 89.7 157.6 92.0C158.6 94.3 159.9 96.8 160.6 99.6C161.4 102.4 161.9 106.5 162.2 108.7C162.4 111.0 162.2 112.3 162.2 113.0M201.7 81.4C201.5 83.2 200.6 88.7 200.5 92.0C200.3 95.3 201.1 97.7 200.9 101.1C200.7 104.6 199.6 111.0 199.4 113.0M144.5 52.7C144.3 54.9 143.0 61.5 143.4 65.9C143.7 70.3 145.4 75.4 146.7 79.1C148.0 82.8 149.8 85.9 151.1 87.9C152.4 89.9 152.9 91.6 154.4 91.2C155.8 90.9 157.5 87.4 159.9 85.7C162.3 84.1 165.4 82.8 168.7 81.3C172.0 79.8 176.4 78.4 179.7 76.9C183.0 75.4 185.2 72.9 188.5 72.5C191.8 72.1 197.7 74.3 199.6 74.7M134.5 83.5C133.6 85.7 130.7 91.8 129.0 96.7C127.4 101.7 125.4 110.3 124.6 113.0M107.0 72.5C108.5 72.5 112.5 71.9 115.8 72.5C119.1 73.0 123.9 74.7 126.8 75.8C129.8 76.9 131.6 77.8 133.4 79.1C135.3 80.4 136.0 82.4 137.9 83.5C139.7 84.6 142.8 85.0 144.5 85.7C146.1 86.5 146.7 87.0 147.8 87.9C148.9 88.8 150.5 90.7 151.1 91.2M130.4 43.5C129.6 44.6 126.3 47.5 125.3 49.9C124.4 52.2 124.5 54.7 124.7 57.5C124.9 60.2 125.7 63.8 126.6 66.4C127.6 68.9 129.4 71.3 130.4 72.7C131.5 74.2 131.9 75.3 133.0 75.3C134.0 75.3 135.1 73.8 136.8 72.7C138.5 71.7 141.9 70.4 143.1 68.9C144.4 67.4 144.3 66.0 144.4 63.8C144.5 61.7 144.0 58.3 143.8 56.2C143.6 54.1 143.7 53.3 143.1 51.1C142.6 49.0 141.0 44.8 140.6 43.5M143.1 51.1C143.3 52.6 144.1 57.1 144.4 60.0C144.7 63.0 144.6 66.2 145.0 68.9C145.5 71.7 146.0 74.2 146.9 76.6C147.9 78.9 149.5 81.2 150.8 82.9C152.0 84.6 153.3 86.5 154.6 86.7C155.8 86.9 156.7 85.0 158.4 84.2C160.1 83.3 163.9 82.1 165.0 81.6M105.0 51.1C106.7 51.1 112.6 51.3 115.2 51.1C117.7 50.9 118.3 50.7 120.3 49.9C122.2 49.0 124.9 47.1 126.6 46.0C128.3 45.0 129.8 43.9 130.4 43.5M130.0 23.6C131.1 23.5 134.1 23.4 136.4 23.1C138.7 22.7 141.3 21.8 143.8 21.5C146.2 21.1 148.5 20.8 151.2 20.9C153.8 21.1 158.2 22.3 159.7 22.5M130.0 17.8C131.8 17.7 137.4 16.9 140.6 17.2C143.8 17.6 147.3 19.4 149.1 19.9C150.8 20.4 150.8 20.3 151.2 20.4M130.0 31.5C131.1 31.4 134.6 31.0 136.4 30.5C138.1 29.9 139.0 29.1 140.6 28.4C142.2 27.7 144.1 26.8 145.9 26.2C147.7 25.7 149.6 25.3 151.2 25.2C152.8 25.1 154.4 25.4 155.4 25.7C156.5 26.1 157.2 27.0 157.5 27.3M130.0 35.2C130.5 35.1 131.8 34.9 133.2 34.2C134.6 33.5 136.7 32.1 138.5 31.0C140.2 29.9 142.0 28.6 143.8 27.8C145.5 27.0 147.3 26.4 149.1 26.2C150.8 26.1 153.5 26.7 154.4 26.8M130.0 37.4C130.7 37.9 132.8 39.5 134.2 40.5C135.6 41.6 137.2 42.8 138.5 43.7C139.7 44.6 140.6 45.3 141.7 45.8C142.7 46.4 143.9 46.9 144.8 46.9C145.7 46.9 145.9 46.7 146.9 45.8C148.0 45.0 149.6 42.8 151.2 41.6C152.8 40.4 154.7 39.6 156.5 38.4C158.2 37.3 160.9 35.3 161.8 34.7M138.5 37.4C139.4 37.3 141.7 36.7 143.8 36.8C145.9 37.0 148.9 38.1 151.2 38.4C153.5 38.8 155.6 38.8 157.5 39.0C159.5 39.1 161.2 39.0 162.8 39.5C164.4 39.9 165.5 40.9 167.1 41.6C168.7 42.3 170.6 42.8 172.4 43.7C174.1 44.6 176.4 46.2 177.7 46.9C178.9 47.6 179.6 47.8 180.0 48.0M95.0 24.0C95.8 23.7 98.5 23.0 100.1 22.3C101.6 21.6 102.8 20.8 104.3 19.8C105.9 18.7 106.0 16.6 109.4 16.0C112.8 15.3 121.7 15.4 124.7 16.0C127.6 16.5 125.5 19.1 127.2 19.4C128.9 19.6 133.7 17.9 135.0 17.7M95.0 24.4C95.8 24.4 97.5 24.2 100.1 24.0C102.6 23.9 106.6 23.6 110.3 23.6C113.9 23.6 118.0 23.8 122.1 24.0C126.2 24.2 132.9 24.7 135.0 24.9M95.0 32.5C95.8 32.3 98.8 31.6 100.1 31.2C101.4 30.8 101.4 30.4 102.6 29.9C103.9 29.5 106.2 29.0 107.7 28.3C109.3 27.5 110.4 26.3 111.9 25.7C113.5 25.1 116.2 25.0 117.0 24.9M95.0 28.7C95.6 28.8 97.1 29.3 98.4 29.5C99.7 29.7 101.9 29.9 102.6 29.9M102.6 34.2C103.3 34.1 104.9 33.7 106.9 33.8C108.8 33.8 111.9 34.1 114.5 34.6C117.0 35.1 119.6 36.1 122.1 36.7C124.7 37.4 127.6 38.3 129.7 38.4C131.9 38.6 134.1 37.7 135.0 37.6M101.4 38.4C101.6 37.9 102.3 36.0 103.1 35.0C103.8 34.0 105.5 32.9 106.0 32.5M95.0 42.7C96.4 42.8 101.4 43.8 103.5 43.5C105.6 43.2 106.2 41.9 107.7 41.0C109.3 40.0 111.9 38.5 112.8 38.0M95.0 47.7C96.1 47.6 99.8 47.2 101.8 46.9C103.8 46.6 105.2 46.1 106.9 46.1C108.6 46.1 110.3 46.5 111.9 46.9C113.6 47.3 115.1 47.9 117.0 48.6C119.0 49.3 122.7 50.7 123.8 51.1M103.5 53.0C103.6 52.3 104.0 49.9 104.3 48.6C104.6 47.3 105.0 45.8 105.2 45.2M112.8 26.6C113.1 27.3 113.8 29.8 114.5 31.2C115.2 32.6 116.0 33.7 117.0 35.0C118.0 36.4 119.2 38.3 120.4 39.3C121.7 40.3 124.0 40.7 124.7 41.0M111.9 30.8C112.9 30.4 115.8 28.8 117.9 28.3C120.0 27.7 123.5 27.5 124.7 27.4M150.0 19.8C150.7 20.0 152.7 20.5 154.2 21.1C155.7 21.7 157.5 22.9 159.1 23.6C160.7 24.3 162.1 25.0 163.6 25.3C165.1 25.6 167.1 25.6 167.8 25.7M165.7 37.6C165.8 37.0 165.9 35.8 166.1 34.2C166.3 32.7 166.6 30.1 166.9 28.3C167.2 26.5 167.6 23.4 168.2 23.2C168.8 23.0 169.7 25.8 170.3 27.4C170.9 28.9 171.6 30.7 172.0 32.5C172.4 34.3 172.3 36.4 172.9 38.4C173.5 40.4 174.3 42.3 175.4 44.4C176.5 46.5 178.6 49.0 179.7 51.1C180.8 53.2 181.5 55.1 182.2 57.1C182.9 59.1 183.6 62.0 183.9 63.0M171.2 29.5C171.9 29.7 174.1 30.5 175.4 30.8C176.7 31.1 177.8 30.5 178.8 31.2C179.8 31.9 180.6 33.6 181.4 35.0C182.2 36.4 182.9 38.2 183.9 39.3C184.9 40.4 186.5 40.5 187.3 41.8C188.2 43.1 188.6 45.6 189.0 46.9C189.4 48.2 189.8 49.0 190.0 49.4M150.0 28.3C150.7 28.1 152.8 27.4 154.2 27.0C155.6 26.6 157.2 26.0 158.5 25.7C159.8 25.4 160.5 25.3 161.9 25.3C163.3 25.3 166.1 25.6 166.9 25.7M150.0 32.9C150.8 32.6 153.5 32.0 155.1 31.2C156.7 30.4 158.2 29.2 159.3 28.3C160.4 27.4 161.5 26.1 161.9 25.7M150.0 45.2C150.8 44.5 153.5 42.4 155.1 41.0C156.7 39.6 158.0 37.7 159.3 36.7C160.6 35.7 161.4 35.4 162.7 35.0C164.0 34.6 165.5 34.4 166.9 34.6C168.3 34.8 170.1 35.5 171.2 36.3C172.3 37.1 173.3 38.8 173.7 39.3M150.0 52.0C151.1 51.7 154.7 51.0 156.8 50.3C158.9 49.6 160.9 48.6 162.7 47.7C164.5 46.9 166.4 46.2 167.8 45.2C169.2 44.2 170.5 42.9 171.2 41.8C171.9 40.7 172.2 39.4 172.0 38.4C171.8 37.4 171.2 36.5 170.3 35.9C169.5 35.3 167.5 34.8 166.9 34.6M160.2 37.6C160.8 38.5 162.6 41.2 163.6 42.7C164.6 44.2 165.4 45.2 166.1 46.9C166.8 48.6 167.7 50.8 167.8 52.8C167.9 54.8 167.1 57.1 166.9 58.8C166.7 60.5 166.6 62.3 166.5 63.0M161.0 35.9C162.0 35.8 165.1 35.1 166.9 35.5C168.7 35.9 170.6 37.4 172.0 38.4C173.4 39.4 174.3 40.5 175.4 41.8C176.5 43.1 177.8 44.7 178.8 46.1C179.8 47.5 180.6 48.5 181.4 50.3C182.2 52.1 183.1 55.0 183.9 57.1C184.7 59.2 186.0 62.0 186.4 63.0M157.6 24.0C157.8 25.0 158.1 28.0 158.5 30.0C158.9 32.0 159.9 34.9 160.2 35.9M172.9 38.4C173.6 39.5 175.8 42.8 177.1 45.2C178.4 47.6 179.7 49.8 180.5 52.8C181.3 55.8 181.9 61.3 182.2 63.0M134.5 83.6C135.4 83.8 137.7 84.1 140.0 85.0C142.3 85.9 146.0 88.3 148.5 89.2C151.0 90.1 152.9 89.0 154.9 90.3C156.9 91.5 159.1 93.7 160.3 96.7C161.6 99.7 162.9 104.8 162.4 108.5C161.9 112.2 159.8 116.9 157.1 119.2C154.4 121.5 150.0 122.4 146.4 122.4C142.8 122.4 138.4 121.9 135.7 119.2C133.0 116.5 131.0 111.0 130.3 106.4C129.6 101.8 130.7 95.2 131.4 91.4C132.1 87.6 134.0 84.9 134.5 83.6" fill="none" stroke="#1a1284" stroke-width="1.75" stroke-linejoin="round" stroke-linecap="round"/>
<path d="M105.2 26.6C106.0 26.1 108.4 24.2 110.3 23.6C112.1 23.0 114.4 23.1 116.2 23.2C118.0 23.2 119.6 23.2 121.3 24.0C123.0 24.8 124.8 27.0 126.4 27.8C127.9 28.7 129.9 28.9 130.6 29.1M107.7 33.8C109.1 34.1 113.8 35.1 116.2 35.9C118.6 36.7 120.0 37.6 122.1 38.4C124.2 39.3 127.2 40.1 128.9 41.0C130.6 41.8 131.7 43.1 132.3 43.5M130.0 26.8C130.5 26.9 132.1 27.0 133.2 27.8C134.2 28.6 135.8 30.9 136.4 31.5M130.0 39.5C130.9 40.2 133.5 42.3 135.3 43.7C137.1 45.1 139.0 46.7 140.6 48.0C142.2 49.2 144.1 50.6 144.8 51.1" fill="none" stroke="#3296c4" stroke-width="1.3" stroke-linejoin="round" stroke-linecap="round"/>
</g>
<g clip-path="url(#cd)">
<path d="M239.8 59.2C239.3 59.1 238.0 59.1 236.8 58.5C235.6 57.9 233.8 56.3 232.3 55.5C230.9 54.8 229.3 54.7 227.9 54.0C226.5 53.4 224.9 53.2 224.2 51.8C223.4 50.5 223.3 47.4 223.4 45.9C223.6 44.4 223.7 43.7 224.9 42.9C226.2 42.2 228.9 41.8 230.9 41.4C232.8 41.1 235.4 41.3 236.8 40.7C238.2 40.1 238.5 39.0 239.0 37.7C239.5 36.5 239.1 33.9 239.8 33.3C240.4 32.7 241.5 34.3 242.7 34.0C244.0 33.8 245.7 32.7 247.2 31.8C248.7 30.9 250.4 29.6 251.6 28.8C252.9 28.1 253.4 27.3 254.6 27.3C255.8 27.3 257.6 28.6 259.0 28.8C260.5 29.1 261.8 29.2 263.5 28.8C265.2 28.5 267.8 27.2 269.4 26.6C271.0 26.0 272.3 24.9 273.1 25.1C274.0 25.4 273.7 26.9 274.6 28.1C275.5 29.3 277.0 31.4 278.3 32.5C279.7 33.7 281.0 34.9 282.8 34.8C284.5 34.6 288.0 32.3 289.0 31.8M270.0 26.1C270.7 26.0 273.5 24.8 274.4 25.4C275.4 26.1 275.0 28.6 275.7 29.9C276.5 31.2 277.7 32.4 278.9 33.1C280.1 33.8 282.1 33.9 282.7 34.1M275.7 44.5C275.6 43.7 274.8 40.9 275.1 39.4C275.4 37.9 276.4 36.5 277.6 35.6C278.9 34.7 281.2 34.2 282.7 34.1C284.2 34.0 285.3 34.4 286.5 35.0C287.8 35.5 288.9 36.7 290.3 37.5C291.8 38.4 293.7 39.3 295.4 40.1C297.1 40.8 299.7 40.8 300.5 42.0C301.4 43.2 300.5 46.4 300.5 47.3M289.7 22.9C290.9 23.5 294.9 25.4 296.7 26.7C298.5 28.0 299.8 28.4 300.5 30.5C301.2 32.6 301.1 36.6 301.1 39.4C301.1 42.2 300.6 46.0 300.5 47.3M289.7 22.9C289.6 23.7 289.7 26.7 289.1 28.0C288.4 29.3 286.3 29.5 285.9 30.5C285.5 31.6 285.9 33.7 286.5 34.3C287.2 34.9 288.9 34.6 289.7 34.1C290.5 33.6 291.5 32.1 291.4 31.2C291.2 30.2 289.4 29.0 289.1 28.6M300.5 33.1C301.4 33.3 303.9 33.8 305.6 34.3C307.3 34.9 309.2 35.1 310.7 36.2C312.2 37.4 314.4 40.0 314.5 41.3C314.6 42.7 312.4 43.6 311.3 44.5C310.3 45.4 309.2 46.3 308.1 46.8C307.1 47.3 305.5 47.5 305.0 47.7M309.4 47.0C310.1 47.3 312.5 47.4 313.9 48.3C315.2 49.3 317.2 51.3 317.7 52.8C318.1 54.3 317.3 56.5 316.4 57.2C315.4 58.0 313.1 57.9 311.9 57.2C310.8 56.6 309.7 54.9 309.4 53.4C309.1 51.9 309.9 49.2 310.0 48.3M306.9 49.0C306.4 50.1 305.1 53.5 304.3 55.9C303.6 58.4 302.9 61.2 302.4 63.6C301.9 65.9 301.5 68.2 301.1 69.9C300.8 71.7 300.6 73.3 300.5 74.0M304.8 50.0C304.5 51.4 303.7 55.8 303.1 58.5C302.6 61.1 302.1 63.8 301.7 65.9C301.2 68.0 301.1 69.8 300.6 71.2C300.1 72.6 299.1 73.0 298.5 74.4C297.8 75.8 296.8 77.7 296.8 79.7C296.8 81.6 297.1 84.1 298.5 86.0C299.8 88.0 302.4 89.5 304.8 91.3C307.3 93.1 310.5 94.8 313.3 96.6C316.1 98.4 318.6 100.2 321.8 101.9C325.0 103.6 328.8 106.0 332.4 106.8C335.9 107.6 340.1 107.2 343.0 106.8C345.8 106.3 347.7 105.4 349.3 104.0C350.9 102.7 350.6 100.1 352.5 98.7C354.4 97.3 358.3 95.6 361.0 95.6C363.6 95.5 366.1 97.4 368.4 98.3C370.7 99.2 373.0 99.8 374.7 100.8C376.5 101.9 378.8 103.2 379.0 104.7C379.2 106.1 376.7 107.5 375.8 109.3C374.9 111.2 373.9 113.9 373.7 115.7C373.5 117.4 374.7 117.5 374.7 119.9C374.7 122.3 373.9 128.4 373.7 130.1M374.2 120.0C374.0 121.8 373.1 127.5 372.8 130.8C372.5 134.1 372.2 136.8 372.4 139.8C372.7 142.8 373.5 145.8 374.2 148.8C375.0 151.8 375.7 155.1 376.9 157.8C378.1 160.5 379.8 162.6 381.4 165.0C383.1 167.4 385.6 169.8 386.8 172.2C388.0 174.6 388.9 177.0 388.6 179.4C388.3 181.8 385.6 184.5 385.0 186.6C384.4 188.7 384.1 190.5 385.0 192.0C385.9 193.5 388.3 195.2 390.4 195.6C392.5 196.1 395.2 195.6 397.6 194.7C400.0 193.8 402.9 192.2 404.8 190.2C406.8 188.3 408.7 185.4 409.3 183.0C409.9 180.6 409.5 177.9 408.4 175.8C407.4 173.7 405.4 171.6 403.0 170.4C400.6 169.2 396.4 168.3 394.0 168.6C391.6 168.9 389.8 170.7 388.6 172.2C387.5 173.7 387.4 176.7 387.2 177.6M363.4 175.8C364.3 174.3 366.4 169.4 368.8 166.8C371.2 164.3 375.1 162.5 377.8 160.5C380.5 158.6 382.3 156.3 385.0 155.1C387.7 153.9 391.2 153.2 394.0 153.3C396.9 153.5 400.5 154.7 402.1 156.0C403.8 157.4 403.8 159.6 403.9 161.4C404.1 163.2 403.2 165.9 403.0 166.8M363.4 175.8C363.7 176.4 363.7 178.5 365.2 179.4C366.7 180.3 370.0 180.3 372.4 181.2C374.8 182.1 377.5 183.6 379.6 184.8C381.7 186.0 382.6 187.8 385.0 188.4C387.4 189.0 391.3 188.7 394.0 188.4C396.7 188.1 400.0 186.9 401.2 186.6M401.2 156.0C402.4 156.6 406.3 159.2 408.4 159.6C410.5 160.1 412.3 159.6 413.8 158.7C415.3 157.8 416.8 155.0 417.4 154.2M417.4 154.2C418.3 153.0 421.6 148.5 422.8 147.0C424.1 145.5 424.6 145.5 425.0 145.2M418.3 125.4C418.5 126.3 418.5 129.0 419.2 130.8C420.0 132.6 421.9 134.7 422.8 136.2C423.8 137.7 424.6 139.2 425.0 139.8M419.0 125.0C419.0 125.7 418.4 127.7 419.0 129.3C419.7 130.9 422.0 132.1 422.8 134.6C423.6 137.1 424.3 142.2 423.8 144.1C423.4 146.1 421.6 145.7 420.1 146.3C418.6 146.9 416.2 146.8 414.8 147.9C413.4 148.9 412.5 151.3 411.6 152.7C410.7 154.0 409.8 155.3 409.5 155.9M403.6 160.6C403.8 161.3 404.2 163.4 404.7 164.8C405.2 166.2 406.1 168.0 406.8 169.1C407.5 170.2 407.8 170.3 408.9 171.2C409.9 172.1 411.7 173.3 413.1 174.4C414.5 175.5 416.7 177.0 417.4 177.5M416.3 171.2C416.5 170.0 417.6 165.6 417.4 163.8C417.2 162.0 416.4 161.5 415.3 160.6C414.2 159.7 412.1 159.2 411.0 158.5C409.9 157.8 409.2 156.8 408.9 156.4M394.0 188.4C395.2 187.5 399.9 184.4 401.5 182.8C403.1 181.2 403.1 180.2 403.6 178.6C404.1 177.0 404.7 174.9 404.7 173.3C404.7 171.7 404.3 170.3 403.6 169.1C402.9 167.9 402.0 166.4 400.4 165.9C398.8 165.4 396.0 165.6 394.1 165.9C392.2 166.2 390.0 167.1 388.8 168.0C387.6 168.9 387.1 170.7 386.7 171.2M400.4 156.4C400.8 156.8 402.0 157.4 402.5 158.5C403.0 159.6 402.9 161.1 403.6 162.7C404.3 164.3 405.7 166.6 406.8 168.0C407.9 169.4 408.6 170.6 410.0 171.2C411.4 171.8 413.5 171.9 415.3 171.7C417.1 171.5 419.0 170.4 420.6 170.1C422.2 169.8 424.3 169.7 425.0 169.6M401.5 171.2C402.4 171.4 405.0 172.2 406.8 172.2C408.6 172.2 410.3 171.7 412.1 171.2C413.9 170.7 415.8 169.4 417.4 169.1C419.0 168.8 420.9 169.5 421.6 169.6M401.5 192.4C402.0 191.2 403.8 187.1 404.7 185.0C405.6 182.9 405.9 181.3 406.8 179.7C407.7 178.1 409.5 176.1 410.0 175.4M278.3 32.5C277.8 33.6 275.8 37.2 275.4 39.2C275.0 41.2 275.4 43.6 276.1 44.4C276.8 45.1 278.4 44.3 279.8 43.7C281.2 43.1 282.8 41.5 284.3 40.7C285.8 40.0 288.2 39.5 289.0 39.2" fill="none" stroke="#1a1284" stroke-width="1.75" stroke-linejoin="round" stroke-linecap="round"/>
<path d="M405.7 171.2C406.4 171.7 408.4 173.5 410.0 174.4C411.6 175.3 413.7 175.6 415.3 176.5C416.9 177.4 418.4 178.8 419.5 179.7C420.6 180.6 421.1 181.6 421.6 181.8C422.1 182.0 423.1 181.6 422.7 180.7C422.3 179.8 420.6 178.1 419.5 176.5C418.4 174.9 416.8 172.1 416.3 171.2M400.4 165.9C401.2 166.2 403.4 167.5 405.0 168.0C406.6 168.5 408.2 168.9 410.0 169.0C411.8 169.1 415.0 168.6 416.0 168.5" fill="none" stroke="#1f5fb0" stroke-width="1.6" stroke-linejoin="round" stroke-linecap="round"/>
<path d="M282.7 34.3C284.0 35.1 288.2 37.9 290.3 38.8C292.5 39.6 293.7 39.1 295.4 39.4C297.1 39.7 299.8 40.0 300.5 40.7C301.2 41.4 301.1 43.4 299.9 43.9C298.6 44.3 295.1 44.4 292.9 43.2C290.7 42.1 287.6 37.9 286.5 36.9M305.0 47.7C304.2 48.2 301.7 49.3 300.5 50.9C299.3 52.5 298.1 55.9 298.0 57.2C297.9 58.5 298.8 59.1 299.9 58.5C300.9 57.9 303.2 55.0 304.3 53.4C305.5 51.8 306.4 49.7 306.9 49.0M408.9 131.9C409.7 132.4 412.8 133.8 413.7 135.1C414.6 136.4 414.4 138.4 414.3 139.9C414.1 141.4 412.8 142.7 412.7 144.1C412.5 145.6 412.5 147.2 413.2 148.4C413.9 149.6 416.2 150.2 416.9 151.6C417.6 153.0 417.6 155.7 417.4 156.9C417.3 158.2 416.1 158.7 415.9 159.0M408.9 131.9C408.8 132.9 408.0 136.1 407.9 137.8C407.8 139.5 407.7 140.9 408.4 142.0C409.1 143.2 411.3 143.6 412.1 144.7C412.9 145.7 413.0 147.8 413.2 148.4M392.5 180.7C392.8 179.6 393.1 175.9 394.1 174.4C395.1 172.9 396.9 172.1 398.3 171.7C399.7 171.3 401.3 171.6 402.5 172.2C403.7 172.8 405.1 174.0 405.7 175.4C406.3 176.8 406.6 178.9 406.3 180.7C406.0 182.5 404.8 184.8 403.6 186.0C402.5 187.2 400.8 187.5 399.4 187.6C398.0 187.7 396.2 187.1 395.1 186.5C394.0 185.9 393.4 184.9 393.0 183.9C392.6 182.9 392.6 181.2 392.5 180.7M407.8 159.5C408.0 159.0 408.2 157.6 408.9 156.4C409.6 155.2 411.0 153.2 412.1 152.1C413.2 151.0 414.8 150.3 415.3 150.0" fill="none" stroke="#22aaaa" stroke-width="1.4" stroke-linejoin="round" stroke-linecap="round"/>
</g>
<text x="17.6" y="91.8" font-size="9.2" style="fill:#8a8a8a;stroke:#8a8a8a;stroke-width:0.1px">6</text>
<text x="22.6" y="101.6" font-size="9.2" style="fill:#8a8a8a;stroke:#8a8a8a;stroke-width:0.1px">10</text>
<line x1="19.5" y1="101.2" x2="22.5" y2="100.6" stroke="#8a8a8a" stroke-width="0.6"/>
<text x="125.4" y="86.5" font-size="9.2" style="fill:#8a8a8a;stroke:#8a8a8a;stroke-width:0.1px">2</text>
<line x1="130.6" y1="82.9" x2="133.2" y2="81.2" stroke="#8a8a8a" stroke-width="0.6"/>
<text x="157.2" y="77" font-size="9.2" style="fill:#8a8a8a;stroke:#8a8a8a;stroke-width:0.1px">0</text>
<text x="158.3" y="21.5" font-size="9.2" style="fill:#8a8a8a;stroke:#8a8a8a;stroke-width:0.1px">4</text>
<line x1="150.7" y1="18.8" x2="156.5" y2="17.2" stroke="#8a8a8a" stroke-width="0.6"/>
<text x="154.1" y="48.8" font-size="9.2" style="fill:#8a8a8a;stroke:#8a8a8a;stroke-width:0.1px">8</text>
<line x1="158.6" y1="41.6" x2="160.7" y2="40.5" stroke="#8a8a8a" stroke-width="0.6"/>
<path d="M155.4 84.6L157.2 80.2L161 82.4Z" fill="#000"/>
<text x="250.0" y="57.4" font-size="9.2" style="fill:#8a8a8a;stroke:#8a8a8a;stroke-width:0.1px">2</text>
<text x="260.2" y="71.3" font-size="9.2" style="fill:#8a8a8a;stroke:#8a8a8a;stroke-width:0.1px">0</text>
<path d="M258.8 71.8L256.2 78.2L258.8 76.9L261.4 78.2Z" fill="#000"/>
<text x="280.8" y="52.1" font-size="9.2" style="fill:#8a8a8a;stroke:#8a8a8a;stroke-width:0.1px">4</text>
<line x1="287.2" y1="46.4" x2="289.7" y2="44.1" stroke="#8a8a8a" stroke-width="0.6"/>
<text x="380.7" y="102.7" font-size="9.2" style="fill:#8a8a8a;stroke:#8a8a8a;stroke-width:0.1px">6</text>
<text x="402.0" y="124.2" font-size="9.2" style="fill:#8a8a8a;stroke:#8a8a8a;stroke-width:0.1px">10</text>
<line x1="412.8" y1="123.4" x2="415.2" y2="124.6" stroke="#8a8a8a" stroke-width="0.6"/>
<text x="352.1" y="172.6" font-size="9.2" style="fill:#8a8a8a;stroke:#8a8a8a;stroke-width:0.1px">8</text>
<line x1="358.7" y1="171.8" x2="361.4" y2="173.4" stroke="#8a8a8a" stroke-width="0.6"/>
<g clip-path="url(#cd)">
<path d="M230.0 53.5C230.6 53.9 232.4 54.9 233.4 55.6C234.4 56.3 235.1 57.1 235.9 57.7C236.8 58.3 237.7 58.6 238.5 59.0C239.3 59.4 240.6 60.1 241.0 60.3" fill="none" stroke="#1a1284" stroke-width="1.75" stroke-linecap="round" stroke-linejoin="round"/>
<path d="M239.7 61.6C239.8 62.3 240.0 64.4 240.2 65.8C240.4 67.2 240.3 69.0 241.0 70.0C241.7 71.0 243.2 71.6 244.4 71.7C245.6 71.8 247.2 71.2 248.2 70.5C249.2 69.8 250.0 69.0 250.3 67.5C250.6 66.0 250.3 63.0 249.9 61.6C249.5 60.2 248.7 59.5 247.8 59.0C246.9 58.5 245.5 58.5 244.4 58.6C243.3 58.7 241.8 58.9 241.0 59.4C240.2 59.9 239.9 61.2 239.7 61.6" fill="none" stroke="#22b0b0" stroke-width="1.5" stroke-linecap="round" stroke-linejoin="round"/>
<path d="M241.2 62.0C241.2 62.7 241.3 64.8 241.5 66.0C241.7 67.2 241.9 68.8 242.5 69.5C243.1 70.2 244.6 70.2 245.0 70.3" fill="none" stroke="#2ab0c0" stroke-width="1.2" stroke-linecap="round" stroke-linejoin="round"/>
<path d="M242.7 60.7C242.6 61.4 242.1 63.6 241.9 64.9C241.7 66.2 241.5 67.7 241.4 68.3" fill="none" stroke="#1a1284" stroke-width="1.3" stroke-linecap="round" stroke-linejoin="round"/>
<path d="M245.3 60.7C245.7 60.6 247.2 59.8 247.8 60.3C248.4 60.8 248.9 62.7 248.6 63.7C248.3 64.8 246.5 66.1 246.1 66.6" fill="none" stroke="#1a1284" stroke-width="1.3" stroke-linecap="round" stroke-linejoin="round"/>
<path d="M242.7 64.9C243.1 64.8 244.5 64.2 245.3 64.5C246.2 64.8 247.4 66.2 247.8 66.6" fill="none" stroke="#c8d820" stroke-width="1.5" stroke-linecap="round" stroke-linejoin="round"/>
<path d="M250.3 60.7C251.0 60.6 253.5 60.0 254.6 60.3C255.7 60.6 256.5 61.6 257.1 62.4C257.7 63.2 258.2 64.5 258.4 64.9" fill="none" stroke="#1a1284" stroke-width="1.6" stroke-linecap="round" stroke-linejoin="round"/>
<path d="M249.5 62.8C250.3 62.8 253.3 62.5 254.6 62.8C255.9 63.1 256.7 64.2 257.1 64.5" fill="none" stroke="#30c060" stroke-width="1.5" stroke-linecap="round" stroke-linejoin="round"/>
<path d="M247.8 68.3C249 66 250 64.6 252 64.3C254.5 64 256 64.9 257.1 65.8C258.5 66.6 259.5 67 261 67.5C259 68.2 258 68.6 257.1 68.8C255 69.3 253 69.6 251 69.5C249.5 69.3 248.5 69 247.8 68.3Z" fill="#e82a1c"/>
<path d="M248.6 70.4C249.3 70.3 251.6 70.1 252.9 70.0C254.2 69.9 255.7 69.7 256.3 69.6" fill="none" stroke="#22a8a8" stroke-width="1.2" stroke-linecap="round" stroke-linejoin="round"/>
</g>
<defs><linearGradient id="cbar" x1="0" y1="0" x2="0" y2="1"><stop offset="0" stop-color="#e42420"/><stop offset="0.18" stop-color="#e42420"/><stop offset="0.26" stop-color="#e8582a"/><stop offset="0.33" stop-color="#e8a820"/><stop offset="0.40" stop-color="#e6e018"/><stop offset="0.46" stop-color="#b8e070"/><stop offset="0.52" stop-color="#20c050"/><stop offset="0.60" stop-color="#20c060"/><stop offset="0.66" stop-color="#20b0a0"/><stop offset="0.74" stop-color="#2070b0"/><stop offset="0.84" stop-color="#1e3c9c"/><stop offset="0.92" stop-color="#1a1480"/><stop offset="1" stop-color="#1a1078"/></linearGradient></defs>
<rect x="438.6" y="24.2" width="15.8" height="91.6" fill="url(#cbar)"/>
<text x="446.5" y="21" text-anchor="middle" font-size="11.5">1.4</text>
<text x="446.5" y="126.8" text-anchor="middle" font-size="11.5">1.0</text>
<text x="9" y="209.6" font-size="15" fill="#111">Baseline</text>
<text x="224" y="209.7" font-size="15" fill="#111">Dark</text>
<line x1="194" y1="213.2" x2="204" y2="213.2" stroke="#111" stroke-width="1.3"/>
<line x1="406.5" y1="213" x2="416.8" y2="213" stroke="#111" stroke-width="1.3"/>
</svg>
</body></html>
